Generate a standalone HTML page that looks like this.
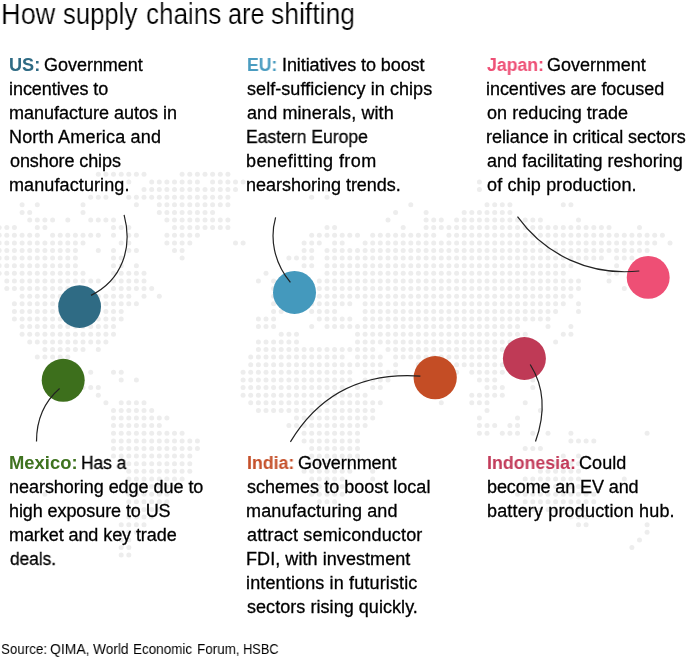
<!DOCTYPE html><html><head><meta charset="utf-8"><title>How supply chains are shifting</title><style>
html,body{margin:0;padding:0;background:#fff}body{width:693px;height:660px;position:relative;overflow:hidden;font-family:"Liberation Sans",sans-serif}
svg{position:absolute;left:0;top:0}
#w{position:absolute;left:0;top:0;width:693px;height:660px;}
.t{will-change:transform;position:absolute;white-space:pre;line-height:20px;height:20px;margin:0}
.n{-webkit-text-stroke:0.3px #000;color:#000}.b{font-weight:bold}.h{-webkit-text-stroke:0.2px #fff}.s{}
</style></head><body><div id="w">
<svg width="693" height="660" viewBox="0 0 693 660"><g fill="#ededed">
<circle cx="98.3" cy="174.3" r="2.5"/>
<circle cx="105.9" cy="174.3" r="2.5"/>
<circle cx="113.5" cy="174.3" r="2.5"/>
<circle cx="121.2" cy="174.3" r="2.5"/>
<circle cx="128.8" cy="174.3" r="2.5"/>
<circle cx="136.4" cy="174.3" r="2.5"/>
<circle cx="144.0" cy="174.3" r="2.5"/>
<circle cx="182.1" cy="174.3" r="2.5"/>
<circle cx="189.8" cy="174.3" r="2.5"/>
<circle cx="197.4" cy="174.3" r="2.5"/>
<circle cx="205.0" cy="174.3" r="2.5"/>
<circle cx="212.6" cy="174.3" r="2.5"/>
<circle cx="220.3" cy="174.3" r="2.5"/>
<circle cx="227.9" cy="174.3" r="2.5"/>
<circle cx="128.8" cy="181.9" r="2.5"/>
<circle cx="151.7" cy="181.9" r="2.5"/>
<circle cx="159.3" cy="181.9" r="2.5"/>
<circle cx="166.9" cy="181.9" r="2.5"/>
<circle cx="174.5" cy="181.9" r="2.5"/>
<circle cx="182.1" cy="181.9" r="2.5"/>
<circle cx="189.8" cy="181.9" r="2.5"/>
<circle cx="197.4" cy="181.9" r="2.5"/>
<circle cx="212.6" cy="181.9" r="2.5"/>
<circle cx="220.3" cy="181.9" r="2.5"/>
<circle cx="227.9" cy="181.9" r="2.5"/>
<circle cx="235.5" cy="181.9" r="2.5"/>
<circle cx="243.1" cy="181.9" r="2.5"/>
<circle cx="479.4" cy="181.9" r="2.5"/>
<circle cx="144.0" cy="189.5" r="2.5"/>
<circle cx="151.7" cy="189.5" r="2.5"/>
<circle cx="159.3" cy="189.5" r="2.5"/>
<circle cx="166.9" cy="189.5" r="2.5"/>
<circle cx="174.5" cy="189.5" r="2.5"/>
<circle cx="182.1" cy="189.5" r="2.5"/>
<circle cx="189.8" cy="189.5" r="2.5"/>
<circle cx="197.4" cy="189.5" r="2.5"/>
<circle cx="205.0" cy="189.5" r="2.5"/>
<circle cx="212.6" cy="189.5" r="2.5"/>
<circle cx="220.3" cy="189.5" r="2.5"/>
<circle cx="227.9" cy="189.5" r="2.5"/>
<circle cx="235.5" cy="189.5" r="2.5"/>
<circle cx="311.7" cy="189.5" r="2.5"/>
<circle cx="327.0" cy="189.5" r="2.5"/>
<circle cx="479.4" cy="189.5" r="2.5"/>
<circle cx="90.7" cy="197.2" r="2.5"/>
<circle cx="98.3" cy="197.2" r="2.5"/>
<circle cx="105.9" cy="197.2" r="2.5"/>
<circle cx="128.8" cy="197.2" r="2.5"/>
<circle cx="136.4" cy="197.2" r="2.5"/>
<circle cx="144.0" cy="197.2" r="2.5"/>
<circle cx="151.7" cy="197.2" r="2.5"/>
<circle cx="159.3" cy="197.2" r="2.5"/>
<circle cx="166.9" cy="197.2" r="2.5"/>
<circle cx="174.5" cy="197.2" r="2.5"/>
<circle cx="182.1" cy="197.2" r="2.5"/>
<circle cx="189.8" cy="197.2" r="2.5"/>
<circle cx="197.4" cy="197.2" r="2.5"/>
<circle cx="205.0" cy="197.2" r="2.5"/>
<circle cx="212.6" cy="197.2" r="2.5"/>
<circle cx="220.3" cy="197.2" r="2.5"/>
<circle cx="227.9" cy="197.2" r="2.5"/>
<circle cx="311.7" cy="197.2" r="2.5"/>
<circle cx="327.0" cy="197.2" r="2.5"/>
<circle cx="22.1" cy="204.8" r="2.5"/>
<circle cx="37.3" cy="204.8" r="2.5"/>
<circle cx="83.0" cy="204.8" r="2.5"/>
<circle cx="136.4" cy="204.8" r="2.5"/>
<circle cx="159.3" cy="204.8" r="2.5"/>
<circle cx="166.9" cy="204.8" r="2.5"/>
<circle cx="174.5" cy="204.8" r="2.5"/>
<circle cx="182.1" cy="204.8" r="2.5"/>
<circle cx="189.8" cy="204.8" r="2.5"/>
<circle cx="197.4" cy="204.8" r="2.5"/>
<circle cx="205.0" cy="204.8" r="2.5"/>
<circle cx="212.6" cy="204.8" r="2.5"/>
<circle cx="220.3" cy="204.8" r="2.5"/>
<circle cx="227.9" cy="204.8" r="2.5"/>
<circle cx="410.8" cy="204.8" r="2.5"/>
<circle cx="487.0" cy="204.8" r="2.5"/>
<circle cx="494.7" cy="204.8" r="2.5"/>
<circle cx="502.3" cy="204.8" r="2.5"/>
<circle cx="509.9" cy="204.8" r="2.5"/>
<circle cx="563.3" cy="204.8" r="2.5"/>
<circle cx="570.9" cy="204.8" r="2.5"/>
<circle cx="22.1" cy="212.4" r="2.5"/>
<circle cx="29.7" cy="212.4" r="2.5"/>
<circle cx="83.0" cy="212.4" r="2.5"/>
<circle cx="159.3" cy="212.4" r="2.5"/>
<circle cx="166.9" cy="212.4" r="2.5"/>
<circle cx="174.5" cy="212.4" r="2.5"/>
<circle cx="182.1" cy="212.4" r="2.5"/>
<circle cx="189.8" cy="212.4" r="2.5"/>
<circle cx="197.4" cy="212.4" r="2.5"/>
<circle cx="205.0" cy="212.4" r="2.5"/>
<circle cx="212.6" cy="212.4" r="2.5"/>
<circle cx="395.6" cy="212.4" r="2.5"/>
<circle cx="426.1" cy="212.4" r="2.5"/>
<circle cx="464.2" cy="212.4" r="2.5"/>
<circle cx="471.8" cy="212.4" r="2.5"/>
<circle cx="479.4" cy="212.4" r="2.5"/>
<circle cx="487.0" cy="212.4" r="2.5"/>
<circle cx="494.7" cy="212.4" r="2.5"/>
<circle cx="502.3" cy="212.4" r="2.5"/>
<circle cx="509.9" cy="212.4" r="2.5"/>
<circle cx="29.7" cy="220.0" r="2.5"/>
<circle cx="37.3" cy="220.0" r="2.5"/>
<circle cx="44.9" cy="220.0" r="2.5"/>
<circle cx="52.6" cy="220.0" r="2.5"/>
<circle cx="67.8" cy="220.0" r="2.5"/>
<circle cx="90.7" cy="220.0" r="2.5"/>
<circle cx="98.3" cy="220.0" r="2.5"/>
<circle cx="105.9" cy="220.0" r="2.5"/>
<circle cx="113.5" cy="220.0" r="2.5"/>
<circle cx="166.9" cy="220.0" r="2.5"/>
<circle cx="174.5" cy="220.0" r="2.5"/>
<circle cx="182.1" cy="220.0" r="2.5"/>
<circle cx="189.8" cy="220.0" r="2.5"/>
<circle cx="197.4" cy="220.0" r="2.5"/>
<circle cx="205.0" cy="220.0" r="2.5"/>
<circle cx="212.6" cy="220.0" r="2.5"/>
<circle cx="220.3" cy="220.0" r="2.5"/>
<circle cx="227.9" cy="220.0" r="2.5"/>
<circle cx="388.0" cy="220.0" r="2.5"/>
<circle cx="426.1" cy="220.0" r="2.5"/>
<circle cx="433.7" cy="220.0" r="2.5"/>
<circle cx="441.3" cy="220.0" r="2.5"/>
<circle cx="456.6" cy="220.0" r="2.5"/>
<circle cx="464.2" cy="220.0" r="2.5"/>
<circle cx="471.8" cy="220.0" r="2.5"/>
<circle cx="479.4" cy="220.0" r="2.5"/>
<circle cx="487.0" cy="220.0" r="2.5"/>
<circle cx="494.7" cy="220.0" r="2.5"/>
<circle cx="502.3" cy="220.0" r="2.5"/>
<circle cx="509.9" cy="220.0" r="2.5"/>
<circle cx="517.5" cy="220.0" r="2.5"/>
<circle cx="525.2" cy="220.0" r="2.5"/>
<circle cx="532.8" cy="220.0" r="2.5"/>
<circle cx="540.4" cy="220.0" r="2.5"/>
<circle cx="578.5" cy="220.0" r="2.5"/>
<circle cx="-0.8" cy="227.6" r="2.5"/>
<circle cx="6.8" cy="227.6" r="2.5"/>
<circle cx="14.4" cy="227.6" r="2.5"/>
<circle cx="37.3" cy="227.6" r="2.5"/>
<circle cx="44.9" cy="227.6" r="2.5"/>
<circle cx="113.5" cy="227.6" r="2.5"/>
<circle cx="121.2" cy="227.6" r="2.5"/>
<circle cx="128.8" cy="227.6" r="2.5"/>
<circle cx="174.5" cy="227.6" r="2.5"/>
<circle cx="182.1" cy="227.6" r="2.5"/>
<circle cx="189.8" cy="227.6" r="2.5"/>
<circle cx="197.4" cy="227.6" r="2.5"/>
<circle cx="205.0" cy="227.6" r="2.5"/>
<circle cx="212.6" cy="227.6" r="2.5"/>
<circle cx="220.3" cy="227.6" r="2.5"/>
<circle cx="227.9" cy="227.6" r="2.5"/>
<circle cx="327.0" cy="227.6" r="2.5"/>
<circle cx="334.6" cy="227.6" r="2.5"/>
<circle cx="403.2" cy="227.6" r="2.5"/>
<circle cx="426.1" cy="227.6" r="2.5"/>
<circle cx="433.7" cy="227.6" r="2.5"/>
<circle cx="441.3" cy="227.6" r="2.5"/>
<circle cx="448.9" cy="227.6" r="2.5"/>
<circle cx="456.6" cy="227.6" r="2.5"/>
<circle cx="464.2" cy="227.6" r="2.5"/>
<circle cx="471.8" cy="227.6" r="2.5"/>
<circle cx="479.4" cy="227.6" r="2.5"/>
<circle cx="487.0" cy="227.6" r="2.5"/>
<circle cx="494.7" cy="227.6" r="2.5"/>
<circle cx="502.3" cy="227.6" r="2.5"/>
<circle cx="509.9" cy="227.6" r="2.5"/>
<circle cx="517.5" cy="227.6" r="2.5"/>
<circle cx="525.2" cy="227.6" r="2.5"/>
<circle cx="532.8" cy="227.6" r="2.5"/>
<circle cx="540.4" cy="227.6" r="2.5"/>
<circle cx="548.0" cy="227.6" r="2.5"/>
<circle cx="555.6" cy="227.6" r="2.5"/>
<circle cx="563.3" cy="227.6" r="2.5"/>
<circle cx="570.9" cy="227.6" r="2.5"/>
<circle cx="578.5" cy="227.6" r="2.5"/>
<circle cx="586.1" cy="227.6" r="2.5"/>
<circle cx="593.8" cy="227.6" r="2.5"/>
<circle cx="601.4" cy="227.6" r="2.5"/>
<circle cx="609.0" cy="227.6" r="2.5"/>
<circle cx="639.5" cy="227.6" r="2.5"/>
<circle cx="-0.8" cy="235.2" r="2.5"/>
<circle cx="6.8" cy="235.2" r="2.5"/>
<circle cx="14.4" cy="235.2" r="2.5"/>
<circle cx="22.1" cy="235.2" r="2.5"/>
<circle cx="29.7" cy="235.2" r="2.5"/>
<circle cx="37.3" cy="235.2" r="2.5"/>
<circle cx="52.6" cy="235.2" r="2.5"/>
<circle cx="60.2" cy="235.2" r="2.5"/>
<circle cx="67.8" cy="235.2" r="2.5"/>
<circle cx="75.4" cy="235.2" r="2.5"/>
<circle cx="83.0" cy="235.2" r="2.5"/>
<circle cx="90.7" cy="235.2" r="2.5"/>
<circle cx="98.3" cy="235.2" r="2.5"/>
<circle cx="113.5" cy="235.2" r="2.5"/>
<circle cx="128.8" cy="235.2" r="2.5"/>
<circle cx="136.4" cy="235.2" r="2.5"/>
<circle cx="166.9" cy="235.2" r="2.5"/>
<circle cx="174.5" cy="235.2" r="2.5"/>
<circle cx="182.1" cy="235.2" r="2.5"/>
<circle cx="189.8" cy="235.2" r="2.5"/>
<circle cx="197.4" cy="235.2" r="2.5"/>
<circle cx="311.7" cy="235.2" r="2.5"/>
<circle cx="319.3" cy="235.2" r="2.5"/>
<circle cx="327.0" cy="235.2" r="2.5"/>
<circle cx="334.6" cy="235.2" r="2.5"/>
<circle cx="342.2" cy="235.2" r="2.5"/>
<circle cx="349.8" cy="235.2" r="2.5"/>
<circle cx="357.5" cy="235.2" r="2.5"/>
<circle cx="372.7" cy="235.2" r="2.5"/>
<circle cx="380.3" cy="235.2" r="2.5"/>
<circle cx="388.0" cy="235.2" r="2.5"/>
<circle cx="395.6" cy="235.2" r="2.5"/>
<circle cx="403.2" cy="235.2" r="2.5"/>
<circle cx="410.8" cy="235.2" r="2.5"/>
<circle cx="418.4" cy="235.2" r="2.5"/>
<circle cx="426.1" cy="235.2" r="2.5"/>
<circle cx="433.7" cy="235.2" r="2.5"/>
<circle cx="448.9" cy="235.2" r="2.5"/>
<circle cx="456.6" cy="235.2" r="2.5"/>
<circle cx="464.2" cy="235.2" r="2.5"/>
<circle cx="471.8" cy="235.2" r="2.5"/>
<circle cx="479.4" cy="235.2" r="2.5"/>
<circle cx="487.0" cy="235.2" r="2.5"/>
<circle cx="494.7" cy="235.2" r="2.5"/>
<circle cx="502.3" cy="235.2" r="2.5"/>
<circle cx="509.9" cy="235.2" r="2.5"/>
<circle cx="517.5" cy="235.2" r="2.5"/>
<circle cx="525.2" cy="235.2" r="2.5"/>
<circle cx="532.8" cy="235.2" r="2.5"/>
<circle cx="540.4" cy="235.2" r="2.5"/>
<circle cx="548.0" cy="235.2" r="2.5"/>
<circle cx="555.6" cy="235.2" r="2.5"/>
<circle cx="563.3" cy="235.2" r="2.5"/>
<circle cx="570.9" cy="235.2" r="2.5"/>
<circle cx="578.5" cy="235.2" r="2.5"/>
<circle cx="586.1" cy="235.2" r="2.5"/>
<circle cx="593.8" cy="235.2" r="2.5"/>
<circle cx="601.4" cy="235.2" r="2.5"/>
<circle cx="609.0" cy="235.2" r="2.5"/>
<circle cx="616.6" cy="235.2" r="2.5"/>
<circle cx="624.3" cy="235.2" r="2.5"/>
<circle cx="631.9" cy="235.2" r="2.5"/>
<circle cx="639.5" cy="235.2" r="2.5"/>
<circle cx="647.1" cy="235.2" r="2.5"/>
<circle cx="654.7" cy="235.2" r="2.5"/>
<circle cx="662.4" cy="235.2" r="2.5"/>
<circle cx="-0.8" cy="242.9" r="2.5"/>
<circle cx="6.8" cy="242.9" r="2.5"/>
<circle cx="14.4" cy="242.9" r="2.5"/>
<circle cx="22.1" cy="242.9" r="2.5"/>
<circle cx="29.7" cy="242.9" r="2.5"/>
<circle cx="37.3" cy="242.9" r="2.5"/>
<circle cx="44.9" cy="242.9" r="2.5"/>
<circle cx="52.6" cy="242.9" r="2.5"/>
<circle cx="60.2" cy="242.9" r="2.5"/>
<circle cx="67.8" cy="242.9" r="2.5"/>
<circle cx="75.4" cy="242.9" r="2.5"/>
<circle cx="83.0" cy="242.9" r="2.5"/>
<circle cx="121.2" cy="242.9" r="2.5"/>
<circle cx="128.8" cy="242.9" r="2.5"/>
<circle cx="166.9" cy="242.9" r="2.5"/>
<circle cx="174.5" cy="242.9" r="2.5"/>
<circle cx="182.1" cy="242.9" r="2.5"/>
<circle cx="189.8" cy="242.9" r="2.5"/>
<circle cx="235.5" cy="242.9" r="2.5"/>
<circle cx="243.1" cy="242.9" r="2.5"/>
<circle cx="304.1" cy="242.9" r="2.5"/>
<circle cx="311.7" cy="242.9" r="2.5"/>
<circle cx="319.3" cy="242.9" r="2.5"/>
<circle cx="334.6" cy="242.9" r="2.5"/>
<circle cx="342.2" cy="242.9" r="2.5"/>
<circle cx="365.1" cy="242.9" r="2.5"/>
<circle cx="372.7" cy="242.9" r="2.5"/>
<circle cx="380.3" cy="242.9" r="2.5"/>
<circle cx="388.0" cy="242.9" r="2.5"/>
<circle cx="395.6" cy="242.9" r="2.5"/>
<circle cx="403.2" cy="242.9" r="2.5"/>
<circle cx="410.8" cy="242.9" r="2.5"/>
<circle cx="418.4" cy="242.9" r="2.5"/>
<circle cx="426.1" cy="242.9" r="2.5"/>
<circle cx="433.7" cy="242.9" r="2.5"/>
<circle cx="441.3" cy="242.9" r="2.5"/>
<circle cx="448.9" cy="242.9" r="2.5"/>
<circle cx="456.6" cy="242.9" r="2.5"/>
<circle cx="464.2" cy="242.9" r="2.5"/>
<circle cx="471.8" cy="242.9" r="2.5"/>
<circle cx="479.4" cy="242.9" r="2.5"/>
<circle cx="487.0" cy="242.9" r="2.5"/>
<circle cx="494.7" cy="242.9" r="2.5"/>
<circle cx="502.3" cy="242.9" r="2.5"/>
<circle cx="509.9" cy="242.9" r="2.5"/>
<circle cx="517.5" cy="242.9" r="2.5"/>
<circle cx="525.2" cy="242.9" r="2.5"/>
<circle cx="532.8" cy="242.9" r="2.5"/>
<circle cx="540.4" cy="242.9" r="2.5"/>
<circle cx="548.0" cy="242.9" r="2.5"/>
<circle cx="555.6" cy="242.9" r="2.5"/>
<circle cx="563.3" cy="242.9" r="2.5"/>
<circle cx="570.9" cy="242.9" r="2.5"/>
<circle cx="578.5" cy="242.9" r="2.5"/>
<circle cx="586.1" cy="242.9" r="2.5"/>
<circle cx="593.8" cy="242.9" r="2.5"/>
<circle cx="601.4" cy="242.9" r="2.5"/>
<circle cx="609.0" cy="242.9" r="2.5"/>
<circle cx="616.6" cy="242.9" r="2.5"/>
<circle cx="624.3" cy="242.9" r="2.5"/>
<circle cx="631.9" cy="242.9" r="2.5"/>
<circle cx="639.5" cy="242.9" r="2.5"/>
<circle cx="647.1" cy="242.9" r="2.5"/>
<circle cx="654.7" cy="242.9" r="2.5"/>
<circle cx="670.0" cy="242.9" r="2.5"/>
<circle cx="-0.8" cy="250.5" r="2.5"/>
<circle cx="6.8" cy="250.5" r="2.5"/>
<circle cx="14.4" cy="250.5" r="2.5"/>
<circle cx="22.1" cy="250.5" r="2.5"/>
<circle cx="29.7" cy="250.5" r="2.5"/>
<circle cx="37.3" cy="250.5" r="2.5"/>
<circle cx="44.9" cy="250.5" r="2.5"/>
<circle cx="52.6" cy="250.5" r="2.5"/>
<circle cx="60.2" cy="250.5" r="2.5"/>
<circle cx="67.8" cy="250.5" r="2.5"/>
<circle cx="75.4" cy="250.5" r="2.5"/>
<circle cx="98.3" cy="250.5" r="2.5"/>
<circle cx="113.5" cy="250.5" r="2.5"/>
<circle cx="128.8" cy="250.5" r="2.5"/>
<circle cx="136.4" cy="250.5" r="2.5"/>
<circle cx="174.5" cy="250.5" r="2.5"/>
<circle cx="182.1" cy="250.5" r="2.5"/>
<circle cx="304.1" cy="250.5" r="2.5"/>
<circle cx="311.7" cy="250.5" r="2.5"/>
<circle cx="327.0" cy="250.5" r="2.5"/>
<circle cx="334.6" cy="250.5" r="2.5"/>
<circle cx="342.2" cy="250.5" r="2.5"/>
<circle cx="349.8" cy="250.5" r="2.5"/>
<circle cx="357.5" cy="250.5" r="2.5"/>
<circle cx="365.1" cy="250.5" r="2.5"/>
<circle cx="372.7" cy="250.5" r="2.5"/>
<circle cx="380.3" cy="250.5" r="2.5"/>
<circle cx="388.0" cy="250.5" r="2.5"/>
<circle cx="395.6" cy="250.5" r="2.5"/>
<circle cx="403.2" cy="250.5" r="2.5"/>
<circle cx="410.8" cy="250.5" r="2.5"/>
<circle cx="418.4" cy="250.5" r="2.5"/>
<circle cx="426.1" cy="250.5" r="2.5"/>
<circle cx="433.7" cy="250.5" r="2.5"/>
<circle cx="441.3" cy="250.5" r="2.5"/>
<circle cx="448.9" cy="250.5" r="2.5"/>
<circle cx="456.6" cy="250.5" r="2.5"/>
<circle cx="464.2" cy="250.5" r="2.5"/>
<circle cx="471.8" cy="250.5" r="2.5"/>
<circle cx="479.4" cy="250.5" r="2.5"/>
<circle cx="487.0" cy="250.5" r="2.5"/>
<circle cx="494.7" cy="250.5" r="2.5"/>
<circle cx="502.3" cy="250.5" r="2.5"/>
<circle cx="509.9" cy="250.5" r="2.5"/>
<circle cx="517.5" cy="250.5" r="2.5"/>
<circle cx="525.2" cy="250.5" r="2.5"/>
<circle cx="532.8" cy="250.5" r="2.5"/>
<circle cx="540.4" cy="250.5" r="2.5"/>
<circle cx="548.0" cy="250.5" r="2.5"/>
<circle cx="555.6" cy="250.5" r="2.5"/>
<circle cx="563.3" cy="250.5" r="2.5"/>
<circle cx="570.9" cy="250.5" r="2.5"/>
<circle cx="578.5" cy="250.5" r="2.5"/>
<circle cx="586.1" cy="250.5" r="2.5"/>
<circle cx="593.8" cy="250.5" r="2.5"/>
<circle cx="601.4" cy="250.5" r="2.5"/>
<circle cx="609.0" cy="250.5" r="2.5"/>
<circle cx="616.6" cy="250.5" r="2.5"/>
<circle cx="624.3" cy="250.5" r="2.5"/>
<circle cx="631.9" cy="250.5" r="2.5"/>
<circle cx="639.5" cy="250.5" r="2.5"/>
<circle cx="647.1" cy="250.5" r="2.5"/>
<circle cx="-0.8" cy="258.1" r="2.5"/>
<circle cx="6.8" cy="258.1" r="2.5"/>
<circle cx="14.4" cy="258.1" r="2.5"/>
<circle cx="22.1" cy="258.1" r="2.5"/>
<circle cx="29.7" cy="258.1" r="2.5"/>
<circle cx="37.3" cy="258.1" r="2.5"/>
<circle cx="44.9" cy="258.1" r="2.5"/>
<circle cx="52.6" cy="258.1" r="2.5"/>
<circle cx="60.2" cy="258.1" r="2.5"/>
<circle cx="67.8" cy="258.1" r="2.5"/>
<circle cx="75.4" cy="258.1" r="2.5"/>
<circle cx="113.5" cy="258.1" r="2.5"/>
<circle cx="121.2" cy="258.1" r="2.5"/>
<circle cx="182.1" cy="258.1" r="2.5"/>
<circle cx="288.9" cy="258.1" r="2.5"/>
<circle cx="296.5" cy="258.1" r="2.5"/>
<circle cx="304.1" cy="258.1" r="2.5"/>
<circle cx="311.7" cy="258.1" r="2.5"/>
<circle cx="327.0" cy="258.1" r="2.5"/>
<circle cx="334.6" cy="258.1" r="2.5"/>
<circle cx="342.2" cy="258.1" r="2.5"/>
<circle cx="349.8" cy="258.1" r="2.5"/>
<circle cx="357.5" cy="258.1" r="2.5"/>
<circle cx="365.1" cy="258.1" r="2.5"/>
<circle cx="372.7" cy="258.1" r="2.5"/>
<circle cx="380.3" cy="258.1" r="2.5"/>
<circle cx="388.0" cy="258.1" r="2.5"/>
<circle cx="395.6" cy="258.1" r="2.5"/>
<circle cx="403.2" cy="258.1" r="2.5"/>
<circle cx="410.8" cy="258.1" r="2.5"/>
<circle cx="418.4" cy="258.1" r="2.5"/>
<circle cx="426.1" cy="258.1" r="2.5"/>
<circle cx="433.7" cy="258.1" r="2.5"/>
<circle cx="441.3" cy="258.1" r="2.5"/>
<circle cx="448.9" cy="258.1" r="2.5"/>
<circle cx="456.6" cy="258.1" r="2.5"/>
<circle cx="464.2" cy="258.1" r="2.5"/>
<circle cx="471.8" cy="258.1" r="2.5"/>
<circle cx="479.4" cy="258.1" r="2.5"/>
<circle cx="487.0" cy="258.1" r="2.5"/>
<circle cx="494.7" cy="258.1" r="2.5"/>
<circle cx="502.3" cy="258.1" r="2.5"/>
<circle cx="509.9" cy="258.1" r="2.5"/>
<circle cx="517.5" cy="258.1" r="2.5"/>
<circle cx="525.2" cy="258.1" r="2.5"/>
<circle cx="532.8" cy="258.1" r="2.5"/>
<circle cx="540.4" cy="258.1" r="2.5"/>
<circle cx="548.0" cy="258.1" r="2.5"/>
<circle cx="555.6" cy="258.1" r="2.5"/>
<circle cx="563.3" cy="258.1" r="2.5"/>
<circle cx="570.9" cy="258.1" r="2.5"/>
<circle cx="578.5" cy="258.1" r="2.5"/>
<circle cx="586.1" cy="258.1" r="2.5"/>
<circle cx="593.8" cy="258.1" r="2.5"/>
<circle cx="601.4" cy="258.1" r="2.5"/>
<circle cx="616.6" cy="258.1" r="2.5"/>
<circle cx="624.3" cy="258.1" r="2.5"/>
<circle cx="631.9" cy="258.1" r="2.5"/>
<circle cx="-0.8" cy="265.7" r="2.5"/>
<circle cx="6.8" cy="265.7" r="2.5"/>
<circle cx="14.4" cy="265.7" r="2.5"/>
<circle cx="22.1" cy="265.7" r="2.5"/>
<circle cx="29.7" cy="265.7" r="2.5"/>
<circle cx="37.3" cy="265.7" r="2.5"/>
<circle cx="44.9" cy="265.7" r="2.5"/>
<circle cx="52.6" cy="265.7" r="2.5"/>
<circle cx="60.2" cy="265.7" r="2.5"/>
<circle cx="67.8" cy="265.7" r="2.5"/>
<circle cx="75.4" cy="265.7" r="2.5"/>
<circle cx="113.5" cy="265.7" r="2.5"/>
<circle cx="121.2" cy="265.7" r="2.5"/>
<circle cx="136.4" cy="265.7" r="2.5"/>
<circle cx="304.1" cy="265.7" r="2.5"/>
<circle cx="311.7" cy="265.7" r="2.5"/>
<circle cx="327.0" cy="265.7" r="2.5"/>
<circle cx="334.6" cy="265.7" r="2.5"/>
<circle cx="342.2" cy="265.7" r="2.5"/>
<circle cx="349.8" cy="265.7" r="2.5"/>
<circle cx="357.5" cy="265.7" r="2.5"/>
<circle cx="365.1" cy="265.7" r="2.5"/>
<circle cx="372.7" cy="265.7" r="2.5"/>
<circle cx="380.3" cy="265.7" r="2.5"/>
<circle cx="388.0" cy="265.7" r="2.5"/>
<circle cx="395.6" cy="265.7" r="2.5"/>
<circle cx="403.2" cy="265.7" r="2.5"/>
<circle cx="410.8" cy="265.7" r="2.5"/>
<circle cx="418.4" cy="265.7" r="2.5"/>
<circle cx="426.1" cy="265.7" r="2.5"/>
<circle cx="433.7" cy="265.7" r="2.5"/>
<circle cx="441.3" cy="265.7" r="2.5"/>
<circle cx="448.9" cy="265.7" r="2.5"/>
<circle cx="456.6" cy="265.7" r="2.5"/>
<circle cx="464.2" cy="265.7" r="2.5"/>
<circle cx="471.8" cy="265.7" r="2.5"/>
<circle cx="479.4" cy="265.7" r="2.5"/>
<circle cx="487.0" cy="265.7" r="2.5"/>
<circle cx="494.7" cy="265.7" r="2.5"/>
<circle cx="502.3" cy="265.7" r="2.5"/>
<circle cx="509.9" cy="265.7" r="2.5"/>
<circle cx="517.5" cy="265.7" r="2.5"/>
<circle cx="525.2" cy="265.7" r="2.5"/>
<circle cx="532.8" cy="265.7" r="2.5"/>
<circle cx="540.4" cy="265.7" r="2.5"/>
<circle cx="548.0" cy="265.7" r="2.5"/>
<circle cx="555.6" cy="265.7" r="2.5"/>
<circle cx="563.3" cy="265.7" r="2.5"/>
<circle cx="570.9" cy="265.7" r="2.5"/>
<circle cx="616.6" cy="265.7" r="2.5"/>
<circle cx="-0.8" cy="273.3" r="2.5"/>
<circle cx="6.8" cy="273.3" r="2.5"/>
<circle cx="14.4" cy="273.3" r="2.5"/>
<circle cx="22.1" cy="273.3" r="2.5"/>
<circle cx="29.7" cy="273.3" r="2.5"/>
<circle cx="37.3" cy="273.3" r="2.5"/>
<circle cx="44.9" cy="273.3" r="2.5"/>
<circle cx="52.6" cy="273.3" r="2.5"/>
<circle cx="60.2" cy="273.3" r="2.5"/>
<circle cx="67.8" cy="273.3" r="2.5"/>
<circle cx="75.4" cy="273.3" r="2.5"/>
<circle cx="83.0" cy="273.3" r="2.5"/>
<circle cx="113.5" cy="273.3" r="2.5"/>
<circle cx="121.2" cy="273.3" r="2.5"/>
<circle cx="128.8" cy="273.3" r="2.5"/>
<circle cx="136.4" cy="273.3" r="2.5"/>
<circle cx="144.0" cy="273.3" r="2.5"/>
<circle cx="266.0" cy="273.3" r="2.5"/>
<circle cx="327.0" cy="273.3" r="2.5"/>
<circle cx="334.6" cy="273.3" r="2.5"/>
<circle cx="342.2" cy="273.3" r="2.5"/>
<circle cx="349.8" cy="273.3" r="2.5"/>
<circle cx="357.5" cy="273.3" r="2.5"/>
<circle cx="365.1" cy="273.3" r="2.5"/>
<circle cx="372.7" cy="273.3" r="2.5"/>
<circle cx="380.3" cy="273.3" r="2.5"/>
<circle cx="388.0" cy="273.3" r="2.5"/>
<circle cx="395.6" cy="273.3" r="2.5"/>
<circle cx="403.2" cy="273.3" r="2.5"/>
<circle cx="410.8" cy="273.3" r="2.5"/>
<circle cx="418.4" cy="273.3" r="2.5"/>
<circle cx="426.1" cy="273.3" r="2.5"/>
<circle cx="433.7" cy="273.3" r="2.5"/>
<circle cx="441.3" cy="273.3" r="2.5"/>
<circle cx="448.9" cy="273.3" r="2.5"/>
<circle cx="456.6" cy="273.3" r="2.5"/>
<circle cx="464.2" cy="273.3" r="2.5"/>
<circle cx="471.8" cy="273.3" r="2.5"/>
<circle cx="479.4" cy="273.3" r="2.5"/>
<circle cx="487.0" cy="273.3" r="2.5"/>
<circle cx="494.7" cy="273.3" r="2.5"/>
<circle cx="502.3" cy="273.3" r="2.5"/>
<circle cx="509.9" cy="273.3" r="2.5"/>
<circle cx="517.5" cy="273.3" r="2.5"/>
<circle cx="525.2" cy="273.3" r="2.5"/>
<circle cx="532.8" cy="273.3" r="2.5"/>
<circle cx="540.4" cy="273.3" r="2.5"/>
<circle cx="548.0" cy="273.3" r="2.5"/>
<circle cx="555.6" cy="273.3" r="2.5"/>
<circle cx="563.3" cy="273.3" r="2.5"/>
<circle cx="609.0" cy="273.3" r="2.5"/>
<circle cx="616.6" cy="273.3" r="2.5"/>
<circle cx="6.8" cy="280.9" r="2.5"/>
<circle cx="14.4" cy="280.9" r="2.5"/>
<circle cx="22.1" cy="280.9" r="2.5"/>
<circle cx="29.7" cy="280.9" r="2.5"/>
<circle cx="37.3" cy="280.9" r="2.5"/>
<circle cx="44.9" cy="280.9" r="2.5"/>
<circle cx="52.6" cy="280.9" r="2.5"/>
<circle cx="60.2" cy="280.9" r="2.5"/>
<circle cx="67.8" cy="280.9" r="2.5"/>
<circle cx="75.4" cy="280.9" r="2.5"/>
<circle cx="83.0" cy="280.9" r="2.5"/>
<circle cx="90.7" cy="280.9" r="2.5"/>
<circle cx="98.3" cy="280.9" r="2.5"/>
<circle cx="113.5" cy="280.9" r="2.5"/>
<circle cx="121.2" cy="280.9" r="2.5"/>
<circle cx="128.8" cy="280.9" r="2.5"/>
<circle cx="136.4" cy="280.9" r="2.5"/>
<circle cx="144.0" cy="280.9" r="2.5"/>
<circle cx="258.4" cy="280.9" r="2.5"/>
<circle cx="273.6" cy="280.9" r="2.5"/>
<circle cx="319.3" cy="280.9" r="2.5"/>
<circle cx="327.0" cy="280.9" r="2.5"/>
<circle cx="334.6" cy="280.9" r="2.5"/>
<circle cx="342.2" cy="280.9" r="2.5"/>
<circle cx="349.8" cy="280.9" r="2.5"/>
<circle cx="357.5" cy="280.9" r="2.5"/>
<circle cx="365.1" cy="280.9" r="2.5"/>
<circle cx="372.7" cy="280.9" r="2.5"/>
<circle cx="380.3" cy="280.9" r="2.5"/>
<circle cx="388.0" cy="280.9" r="2.5"/>
<circle cx="395.6" cy="280.9" r="2.5"/>
<circle cx="403.2" cy="280.9" r="2.5"/>
<circle cx="410.8" cy="280.9" r="2.5"/>
<circle cx="418.4" cy="280.9" r="2.5"/>
<circle cx="426.1" cy="280.9" r="2.5"/>
<circle cx="433.7" cy="280.9" r="2.5"/>
<circle cx="441.3" cy="280.9" r="2.5"/>
<circle cx="448.9" cy="280.9" r="2.5"/>
<circle cx="456.6" cy="280.9" r="2.5"/>
<circle cx="464.2" cy="280.9" r="2.5"/>
<circle cx="471.8" cy="280.9" r="2.5"/>
<circle cx="479.4" cy="280.9" r="2.5"/>
<circle cx="487.0" cy="280.9" r="2.5"/>
<circle cx="494.7" cy="280.9" r="2.5"/>
<circle cx="502.3" cy="280.9" r="2.5"/>
<circle cx="509.9" cy="280.9" r="2.5"/>
<circle cx="517.5" cy="280.9" r="2.5"/>
<circle cx="525.2" cy="280.9" r="2.5"/>
<circle cx="532.8" cy="280.9" r="2.5"/>
<circle cx="540.4" cy="280.9" r="2.5"/>
<circle cx="548.0" cy="280.9" r="2.5"/>
<circle cx="555.6" cy="280.9" r="2.5"/>
<circle cx="563.3" cy="280.9" r="2.5"/>
<circle cx="570.9" cy="280.9" r="2.5"/>
<circle cx="578.5" cy="280.9" r="2.5"/>
<circle cx="609.0" cy="280.9" r="2.5"/>
<circle cx="6.8" cy="288.6" r="2.5"/>
<circle cx="14.4" cy="288.6" r="2.5"/>
<circle cx="22.1" cy="288.6" r="2.5"/>
<circle cx="29.7" cy="288.6" r="2.5"/>
<circle cx="37.3" cy="288.6" r="2.5"/>
<circle cx="44.9" cy="288.6" r="2.5"/>
<circle cx="52.6" cy="288.6" r="2.5"/>
<circle cx="60.2" cy="288.6" r="2.5"/>
<circle cx="67.8" cy="288.6" r="2.5"/>
<circle cx="75.4" cy="288.6" r="2.5"/>
<circle cx="83.0" cy="288.6" r="2.5"/>
<circle cx="113.5" cy="288.6" r="2.5"/>
<circle cx="121.2" cy="288.6" r="2.5"/>
<circle cx="128.8" cy="288.6" r="2.5"/>
<circle cx="136.4" cy="288.6" r="2.5"/>
<circle cx="144.0" cy="288.6" r="2.5"/>
<circle cx="151.7" cy="288.6" r="2.5"/>
<circle cx="273.6" cy="288.6" r="2.5"/>
<circle cx="319.3" cy="288.6" r="2.5"/>
<circle cx="327.0" cy="288.6" r="2.5"/>
<circle cx="334.6" cy="288.6" r="2.5"/>
<circle cx="342.2" cy="288.6" r="2.5"/>
<circle cx="349.8" cy="288.6" r="2.5"/>
<circle cx="357.5" cy="288.6" r="2.5"/>
<circle cx="365.1" cy="288.6" r="2.5"/>
<circle cx="372.7" cy="288.6" r="2.5"/>
<circle cx="380.3" cy="288.6" r="2.5"/>
<circle cx="388.0" cy="288.6" r="2.5"/>
<circle cx="395.6" cy="288.6" r="2.5"/>
<circle cx="403.2" cy="288.6" r="2.5"/>
<circle cx="410.8" cy="288.6" r="2.5"/>
<circle cx="418.4" cy="288.6" r="2.5"/>
<circle cx="426.1" cy="288.6" r="2.5"/>
<circle cx="433.7" cy="288.6" r="2.5"/>
<circle cx="441.3" cy="288.6" r="2.5"/>
<circle cx="448.9" cy="288.6" r="2.5"/>
<circle cx="456.6" cy="288.6" r="2.5"/>
<circle cx="464.2" cy="288.6" r="2.5"/>
<circle cx="471.8" cy="288.6" r="2.5"/>
<circle cx="479.4" cy="288.6" r="2.5"/>
<circle cx="487.0" cy="288.6" r="2.5"/>
<circle cx="494.7" cy="288.6" r="2.5"/>
<circle cx="502.3" cy="288.6" r="2.5"/>
<circle cx="509.9" cy="288.6" r="2.5"/>
<circle cx="517.5" cy="288.6" r="2.5"/>
<circle cx="525.2" cy="288.6" r="2.5"/>
<circle cx="532.8" cy="288.6" r="2.5"/>
<circle cx="540.4" cy="288.6" r="2.5"/>
<circle cx="548.0" cy="288.6" r="2.5"/>
<circle cx="555.6" cy="288.6" r="2.5"/>
<circle cx="563.3" cy="288.6" r="2.5"/>
<circle cx="570.9" cy="288.6" r="2.5"/>
<circle cx="578.5" cy="288.6" r="2.5"/>
<circle cx="624.3" cy="288.6" r="2.5"/>
<circle cx="22.1" cy="296.2" r="2.5"/>
<circle cx="29.7" cy="296.2" r="2.5"/>
<circle cx="37.3" cy="296.2" r="2.5"/>
<circle cx="44.9" cy="296.2" r="2.5"/>
<circle cx="52.6" cy="296.2" r="2.5"/>
<circle cx="60.2" cy="296.2" r="2.5"/>
<circle cx="67.8" cy="296.2" r="2.5"/>
<circle cx="75.4" cy="296.2" r="2.5"/>
<circle cx="83.0" cy="296.2" r="2.5"/>
<circle cx="90.7" cy="296.2" r="2.5"/>
<circle cx="98.3" cy="296.2" r="2.5"/>
<circle cx="105.9" cy="296.2" r="2.5"/>
<circle cx="113.5" cy="296.2" r="2.5"/>
<circle cx="121.2" cy="296.2" r="2.5"/>
<circle cx="128.8" cy="296.2" r="2.5"/>
<circle cx="144.0" cy="296.2" r="2.5"/>
<circle cx="159.3" cy="296.2" r="2.5"/>
<circle cx="273.6" cy="296.2" r="2.5"/>
<circle cx="319.3" cy="296.2" r="2.5"/>
<circle cx="327.0" cy="296.2" r="2.5"/>
<circle cx="334.6" cy="296.2" r="2.5"/>
<circle cx="342.2" cy="296.2" r="2.5"/>
<circle cx="349.8" cy="296.2" r="2.5"/>
<circle cx="357.5" cy="296.2" r="2.5"/>
<circle cx="365.1" cy="296.2" r="2.5"/>
<circle cx="372.7" cy="296.2" r="2.5"/>
<circle cx="380.3" cy="296.2" r="2.5"/>
<circle cx="388.0" cy="296.2" r="2.5"/>
<circle cx="395.6" cy="296.2" r="2.5"/>
<circle cx="403.2" cy="296.2" r="2.5"/>
<circle cx="410.8" cy="296.2" r="2.5"/>
<circle cx="418.4" cy="296.2" r="2.5"/>
<circle cx="426.1" cy="296.2" r="2.5"/>
<circle cx="433.7" cy="296.2" r="2.5"/>
<circle cx="441.3" cy="296.2" r="2.5"/>
<circle cx="448.9" cy="296.2" r="2.5"/>
<circle cx="456.6" cy="296.2" r="2.5"/>
<circle cx="464.2" cy="296.2" r="2.5"/>
<circle cx="471.8" cy="296.2" r="2.5"/>
<circle cx="479.4" cy="296.2" r="2.5"/>
<circle cx="487.0" cy="296.2" r="2.5"/>
<circle cx="494.7" cy="296.2" r="2.5"/>
<circle cx="502.3" cy="296.2" r="2.5"/>
<circle cx="509.9" cy="296.2" r="2.5"/>
<circle cx="517.5" cy="296.2" r="2.5"/>
<circle cx="525.2" cy="296.2" r="2.5"/>
<circle cx="532.8" cy="296.2" r="2.5"/>
<circle cx="540.4" cy="296.2" r="2.5"/>
<circle cx="548.0" cy="296.2" r="2.5"/>
<circle cx="555.6" cy="296.2" r="2.5"/>
<circle cx="563.3" cy="296.2" r="2.5"/>
<circle cx="570.9" cy="296.2" r="2.5"/>
<circle cx="14.4" cy="303.8" r="2.5"/>
<circle cx="22.1" cy="303.8" r="2.5"/>
<circle cx="29.7" cy="303.8" r="2.5"/>
<circle cx="37.3" cy="303.8" r="2.5"/>
<circle cx="44.9" cy="303.8" r="2.5"/>
<circle cx="52.6" cy="303.8" r="2.5"/>
<circle cx="60.2" cy="303.8" r="2.5"/>
<circle cx="67.8" cy="303.8" r="2.5"/>
<circle cx="75.4" cy="303.8" r="2.5"/>
<circle cx="83.0" cy="303.8" r="2.5"/>
<circle cx="90.7" cy="303.8" r="2.5"/>
<circle cx="98.3" cy="303.8" r="2.5"/>
<circle cx="105.9" cy="303.8" r="2.5"/>
<circle cx="113.5" cy="303.8" r="2.5"/>
<circle cx="121.2" cy="303.8" r="2.5"/>
<circle cx="128.8" cy="303.8" r="2.5"/>
<circle cx="136.4" cy="303.8" r="2.5"/>
<circle cx="273.6" cy="303.8" r="2.5"/>
<circle cx="311.7" cy="303.8" r="2.5"/>
<circle cx="319.3" cy="303.8" r="2.5"/>
<circle cx="327.0" cy="303.8" r="2.5"/>
<circle cx="334.6" cy="303.8" r="2.5"/>
<circle cx="342.2" cy="303.8" r="2.5"/>
<circle cx="349.8" cy="303.8" r="2.5"/>
<circle cx="365.1" cy="303.8" r="2.5"/>
<circle cx="372.7" cy="303.8" r="2.5"/>
<circle cx="380.3" cy="303.8" r="2.5"/>
<circle cx="388.0" cy="303.8" r="2.5"/>
<circle cx="395.6" cy="303.8" r="2.5"/>
<circle cx="403.2" cy="303.8" r="2.5"/>
<circle cx="410.8" cy="303.8" r="2.5"/>
<circle cx="418.4" cy="303.8" r="2.5"/>
<circle cx="426.1" cy="303.8" r="2.5"/>
<circle cx="433.7" cy="303.8" r="2.5"/>
<circle cx="441.3" cy="303.8" r="2.5"/>
<circle cx="448.9" cy="303.8" r="2.5"/>
<circle cx="456.6" cy="303.8" r="2.5"/>
<circle cx="464.2" cy="303.8" r="2.5"/>
<circle cx="471.8" cy="303.8" r="2.5"/>
<circle cx="479.4" cy="303.8" r="2.5"/>
<circle cx="487.0" cy="303.8" r="2.5"/>
<circle cx="494.7" cy="303.8" r="2.5"/>
<circle cx="502.3" cy="303.8" r="2.5"/>
<circle cx="509.9" cy="303.8" r="2.5"/>
<circle cx="517.5" cy="303.8" r="2.5"/>
<circle cx="525.2" cy="303.8" r="2.5"/>
<circle cx="532.8" cy="303.8" r="2.5"/>
<circle cx="540.4" cy="303.8" r="2.5"/>
<circle cx="548.0" cy="303.8" r="2.5"/>
<circle cx="555.6" cy="303.8" r="2.5"/>
<circle cx="563.3" cy="303.8" r="2.5"/>
<circle cx="578.5" cy="303.8" r="2.5"/>
<circle cx="14.4" cy="311.4" r="2.5"/>
<circle cx="22.1" cy="311.4" r="2.5"/>
<circle cx="29.7" cy="311.4" r="2.5"/>
<circle cx="37.3" cy="311.4" r="2.5"/>
<circle cx="44.9" cy="311.4" r="2.5"/>
<circle cx="52.6" cy="311.4" r="2.5"/>
<circle cx="60.2" cy="311.4" r="2.5"/>
<circle cx="67.8" cy="311.4" r="2.5"/>
<circle cx="75.4" cy="311.4" r="2.5"/>
<circle cx="83.0" cy="311.4" r="2.5"/>
<circle cx="90.7" cy="311.4" r="2.5"/>
<circle cx="98.3" cy="311.4" r="2.5"/>
<circle cx="105.9" cy="311.4" r="2.5"/>
<circle cx="113.5" cy="311.4" r="2.5"/>
<circle cx="121.2" cy="311.4" r="2.5"/>
<circle cx="273.6" cy="311.4" r="2.5"/>
<circle cx="281.2" cy="311.4" r="2.5"/>
<circle cx="311.7" cy="311.4" r="2.5"/>
<circle cx="319.3" cy="311.4" r="2.5"/>
<circle cx="327.0" cy="311.4" r="2.5"/>
<circle cx="334.6" cy="311.4" r="2.5"/>
<circle cx="365.1" cy="311.4" r="2.5"/>
<circle cx="372.7" cy="311.4" r="2.5"/>
<circle cx="380.3" cy="311.4" r="2.5"/>
<circle cx="388.0" cy="311.4" r="2.5"/>
<circle cx="395.6" cy="311.4" r="2.5"/>
<circle cx="403.2" cy="311.4" r="2.5"/>
<circle cx="410.8" cy="311.4" r="2.5"/>
<circle cx="418.4" cy="311.4" r="2.5"/>
<circle cx="426.1" cy="311.4" r="2.5"/>
<circle cx="433.7" cy="311.4" r="2.5"/>
<circle cx="441.3" cy="311.4" r="2.5"/>
<circle cx="448.9" cy="311.4" r="2.5"/>
<circle cx="456.6" cy="311.4" r="2.5"/>
<circle cx="464.2" cy="311.4" r="2.5"/>
<circle cx="471.8" cy="311.4" r="2.5"/>
<circle cx="479.4" cy="311.4" r="2.5"/>
<circle cx="487.0" cy="311.4" r="2.5"/>
<circle cx="494.7" cy="311.4" r="2.5"/>
<circle cx="502.3" cy="311.4" r="2.5"/>
<circle cx="509.9" cy="311.4" r="2.5"/>
<circle cx="517.5" cy="311.4" r="2.5"/>
<circle cx="525.2" cy="311.4" r="2.5"/>
<circle cx="532.8" cy="311.4" r="2.5"/>
<circle cx="540.4" cy="311.4" r="2.5"/>
<circle cx="548.0" cy="311.4" r="2.5"/>
<circle cx="555.6" cy="311.4" r="2.5"/>
<circle cx="578.5" cy="311.4" r="2.5"/>
<circle cx="14.4" cy="319.0" r="2.5"/>
<circle cx="22.1" cy="319.0" r="2.5"/>
<circle cx="29.7" cy="319.0" r="2.5"/>
<circle cx="37.3" cy="319.0" r="2.5"/>
<circle cx="44.9" cy="319.0" r="2.5"/>
<circle cx="52.6" cy="319.0" r="2.5"/>
<circle cx="60.2" cy="319.0" r="2.5"/>
<circle cx="67.8" cy="319.0" r="2.5"/>
<circle cx="75.4" cy="319.0" r="2.5"/>
<circle cx="83.0" cy="319.0" r="2.5"/>
<circle cx="90.7" cy="319.0" r="2.5"/>
<circle cx="98.3" cy="319.0" r="2.5"/>
<circle cx="105.9" cy="319.0" r="2.5"/>
<circle cx="113.5" cy="319.0" r="2.5"/>
<circle cx="121.2" cy="319.0" r="2.5"/>
<circle cx="258.4" cy="319.0" r="2.5"/>
<circle cx="266.0" cy="319.0" r="2.5"/>
<circle cx="273.6" cy="319.0" r="2.5"/>
<circle cx="319.3" cy="319.0" r="2.5"/>
<circle cx="327.0" cy="319.0" r="2.5"/>
<circle cx="334.6" cy="319.0" r="2.5"/>
<circle cx="342.2" cy="319.0" r="2.5"/>
<circle cx="349.8" cy="319.0" r="2.5"/>
<circle cx="365.1" cy="319.0" r="2.5"/>
<circle cx="372.7" cy="319.0" r="2.5"/>
<circle cx="380.3" cy="319.0" r="2.5"/>
<circle cx="388.0" cy="319.0" r="2.5"/>
<circle cx="395.6" cy="319.0" r="2.5"/>
<circle cx="403.2" cy="319.0" r="2.5"/>
<circle cx="410.8" cy="319.0" r="2.5"/>
<circle cx="418.4" cy="319.0" r="2.5"/>
<circle cx="426.1" cy="319.0" r="2.5"/>
<circle cx="433.7" cy="319.0" r="2.5"/>
<circle cx="441.3" cy="319.0" r="2.5"/>
<circle cx="448.9" cy="319.0" r="2.5"/>
<circle cx="456.6" cy="319.0" r="2.5"/>
<circle cx="464.2" cy="319.0" r="2.5"/>
<circle cx="471.8" cy="319.0" r="2.5"/>
<circle cx="479.4" cy="319.0" r="2.5"/>
<circle cx="487.0" cy="319.0" r="2.5"/>
<circle cx="494.7" cy="319.0" r="2.5"/>
<circle cx="502.3" cy="319.0" r="2.5"/>
<circle cx="509.9" cy="319.0" r="2.5"/>
<circle cx="517.5" cy="319.0" r="2.5"/>
<circle cx="525.2" cy="319.0" r="2.5"/>
<circle cx="532.8" cy="319.0" r="2.5"/>
<circle cx="540.4" cy="319.0" r="2.5"/>
<circle cx="548.0" cy="319.0" r="2.5"/>
<circle cx="22.1" cy="326.6" r="2.5"/>
<circle cx="29.7" cy="326.6" r="2.5"/>
<circle cx="37.3" cy="326.6" r="2.5"/>
<circle cx="44.9" cy="326.6" r="2.5"/>
<circle cx="52.6" cy="326.6" r="2.5"/>
<circle cx="60.2" cy="326.6" r="2.5"/>
<circle cx="67.8" cy="326.6" r="2.5"/>
<circle cx="75.4" cy="326.6" r="2.5"/>
<circle cx="83.0" cy="326.6" r="2.5"/>
<circle cx="90.7" cy="326.6" r="2.5"/>
<circle cx="98.3" cy="326.6" r="2.5"/>
<circle cx="105.9" cy="326.6" r="2.5"/>
<circle cx="113.5" cy="326.6" r="2.5"/>
<circle cx="258.4" cy="326.6" r="2.5"/>
<circle cx="266.0" cy="326.6" r="2.5"/>
<circle cx="273.6" cy="326.6" r="2.5"/>
<circle cx="311.7" cy="326.6" r="2.5"/>
<circle cx="327.0" cy="326.6" r="2.5"/>
<circle cx="334.6" cy="326.6" r="2.5"/>
<circle cx="342.2" cy="326.6" r="2.5"/>
<circle cx="349.8" cy="326.6" r="2.5"/>
<circle cx="357.5" cy="326.6" r="2.5"/>
<circle cx="365.1" cy="326.6" r="2.5"/>
<circle cx="372.7" cy="326.6" r="2.5"/>
<circle cx="380.3" cy="326.6" r="2.5"/>
<circle cx="388.0" cy="326.6" r="2.5"/>
<circle cx="395.6" cy="326.6" r="2.5"/>
<circle cx="403.2" cy="326.6" r="2.5"/>
<circle cx="410.8" cy="326.6" r="2.5"/>
<circle cx="418.4" cy="326.6" r="2.5"/>
<circle cx="426.1" cy="326.6" r="2.5"/>
<circle cx="433.7" cy="326.6" r="2.5"/>
<circle cx="441.3" cy="326.6" r="2.5"/>
<circle cx="448.9" cy="326.6" r="2.5"/>
<circle cx="456.6" cy="326.6" r="2.5"/>
<circle cx="464.2" cy="326.6" r="2.5"/>
<circle cx="471.8" cy="326.6" r="2.5"/>
<circle cx="479.4" cy="326.6" r="2.5"/>
<circle cx="487.0" cy="326.6" r="2.5"/>
<circle cx="494.7" cy="326.6" r="2.5"/>
<circle cx="502.3" cy="326.6" r="2.5"/>
<circle cx="509.9" cy="326.6" r="2.5"/>
<circle cx="517.5" cy="326.6" r="2.5"/>
<circle cx="548.0" cy="326.6" r="2.5"/>
<circle cx="570.9" cy="326.6" r="2.5"/>
<circle cx="22.1" cy="334.3" r="2.5"/>
<circle cx="29.7" cy="334.3" r="2.5"/>
<circle cx="37.3" cy="334.3" r="2.5"/>
<circle cx="44.9" cy="334.3" r="2.5"/>
<circle cx="52.6" cy="334.3" r="2.5"/>
<circle cx="60.2" cy="334.3" r="2.5"/>
<circle cx="67.8" cy="334.3" r="2.5"/>
<circle cx="75.4" cy="334.3" r="2.5"/>
<circle cx="83.0" cy="334.3" r="2.5"/>
<circle cx="90.7" cy="334.3" r="2.5"/>
<circle cx="98.3" cy="334.3" r="2.5"/>
<circle cx="105.9" cy="334.3" r="2.5"/>
<circle cx="113.5" cy="334.3" r="2.5"/>
<circle cx="281.2" cy="334.3" r="2.5"/>
<circle cx="288.9" cy="334.3" r="2.5"/>
<circle cx="296.5" cy="334.3" r="2.5"/>
<circle cx="357.5" cy="334.3" r="2.5"/>
<circle cx="365.1" cy="334.3" r="2.5"/>
<circle cx="372.7" cy="334.3" r="2.5"/>
<circle cx="380.3" cy="334.3" r="2.5"/>
<circle cx="388.0" cy="334.3" r="2.5"/>
<circle cx="395.6" cy="334.3" r="2.5"/>
<circle cx="403.2" cy="334.3" r="2.5"/>
<circle cx="410.8" cy="334.3" r="2.5"/>
<circle cx="418.4" cy="334.3" r="2.5"/>
<circle cx="426.1" cy="334.3" r="2.5"/>
<circle cx="433.7" cy="334.3" r="2.5"/>
<circle cx="441.3" cy="334.3" r="2.5"/>
<circle cx="448.9" cy="334.3" r="2.5"/>
<circle cx="456.6" cy="334.3" r="2.5"/>
<circle cx="464.2" cy="334.3" r="2.5"/>
<circle cx="471.8" cy="334.3" r="2.5"/>
<circle cx="479.4" cy="334.3" r="2.5"/>
<circle cx="487.0" cy="334.3" r="2.5"/>
<circle cx="494.7" cy="334.3" r="2.5"/>
<circle cx="502.3" cy="334.3" r="2.5"/>
<circle cx="509.9" cy="334.3" r="2.5"/>
<circle cx="517.5" cy="334.3" r="2.5"/>
<circle cx="525.2" cy="334.3" r="2.5"/>
<circle cx="563.3" cy="334.3" r="2.5"/>
<circle cx="570.9" cy="334.3" r="2.5"/>
<circle cx="29.7" cy="341.9" r="2.5"/>
<circle cx="37.3" cy="341.9" r="2.5"/>
<circle cx="44.9" cy="341.9" r="2.5"/>
<circle cx="52.6" cy="341.9" r="2.5"/>
<circle cx="60.2" cy="341.9" r="2.5"/>
<circle cx="67.8" cy="341.9" r="2.5"/>
<circle cx="75.4" cy="341.9" r="2.5"/>
<circle cx="83.0" cy="341.9" r="2.5"/>
<circle cx="90.7" cy="341.9" r="2.5"/>
<circle cx="98.3" cy="341.9" r="2.5"/>
<circle cx="105.9" cy="341.9" r="2.5"/>
<circle cx="258.4" cy="341.9" r="2.5"/>
<circle cx="266.0" cy="341.9" r="2.5"/>
<circle cx="273.6" cy="341.9" r="2.5"/>
<circle cx="281.2" cy="341.9" r="2.5"/>
<circle cx="288.9" cy="341.9" r="2.5"/>
<circle cx="296.5" cy="341.9" r="2.5"/>
<circle cx="357.5" cy="341.9" r="2.5"/>
<circle cx="365.1" cy="341.9" r="2.5"/>
<circle cx="372.7" cy="341.9" r="2.5"/>
<circle cx="380.3" cy="341.9" r="2.5"/>
<circle cx="388.0" cy="341.9" r="2.5"/>
<circle cx="395.6" cy="341.9" r="2.5"/>
<circle cx="403.2" cy="341.9" r="2.5"/>
<circle cx="410.8" cy="341.9" r="2.5"/>
<circle cx="418.4" cy="341.9" r="2.5"/>
<circle cx="426.1" cy="341.9" r="2.5"/>
<circle cx="433.7" cy="341.9" r="2.5"/>
<circle cx="441.3" cy="341.9" r="2.5"/>
<circle cx="448.9" cy="341.9" r="2.5"/>
<circle cx="456.6" cy="341.9" r="2.5"/>
<circle cx="464.2" cy="341.9" r="2.5"/>
<circle cx="471.8" cy="341.9" r="2.5"/>
<circle cx="479.4" cy="341.9" r="2.5"/>
<circle cx="487.0" cy="341.9" r="2.5"/>
<circle cx="494.7" cy="341.9" r="2.5"/>
<circle cx="502.3" cy="341.9" r="2.5"/>
<circle cx="509.9" cy="341.9" r="2.5"/>
<circle cx="555.6" cy="341.9" r="2.5"/>
<circle cx="44.9" cy="349.5" r="2.5"/>
<circle cx="52.6" cy="349.5" r="2.5"/>
<circle cx="60.2" cy="349.5" r="2.5"/>
<circle cx="67.8" cy="349.5" r="2.5"/>
<circle cx="75.4" cy="349.5" r="2.5"/>
<circle cx="83.0" cy="349.5" r="2.5"/>
<circle cx="98.3" cy="349.5" r="2.5"/>
<circle cx="258.4" cy="349.5" r="2.5"/>
<circle cx="266.0" cy="349.5" r="2.5"/>
<circle cx="273.6" cy="349.5" r="2.5"/>
<circle cx="281.2" cy="349.5" r="2.5"/>
<circle cx="288.9" cy="349.5" r="2.5"/>
<circle cx="296.5" cy="349.5" r="2.5"/>
<circle cx="304.1" cy="349.5" r="2.5"/>
<circle cx="311.7" cy="349.5" r="2.5"/>
<circle cx="319.3" cy="349.5" r="2.5"/>
<circle cx="327.0" cy="349.5" r="2.5"/>
<circle cx="334.6" cy="349.5" r="2.5"/>
<circle cx="342.2" cy="349.5" r="2.5"/>
<circle cx="349.8" cy="349.5" r="2.5"/>
<circle cx="357.5" cy="349.5" r="2.5"/>
<circle cx="365.1" cy="349.5" r="2.5"/>
<circle cx="372.7" cy="349.5" r="2.5"/>
<circle cx="388.0" cy="349.5" r="2.5"/>
<circle cx="395.6" cy="349.5" r="2.5"/>
<circle cx="403.2" cy="349.5" r="2.5"/>
<circle cx="410.8" cy="349.5" r="2.5"/>
<circle cx="418.4" cy="349.5" r="2.5"/>
<circle cx="426.1" cy="349.5" r="2.5"/>
<circle cx="433.7" cy="349.5" r="2.5"/>
<circle cx="441.3" cy="349.5" r="2.5"/>
<circle cx="448.9" cy="349.5" r="2.5"/>
<circle cx="456.6" cy="349.5" r="2.5"/>
<circle cx="464.2" cy="349.5" r="2.5"/>
<circle cx="471.8" cy="349.5" r="2.5"/>
<circle cx="479.4" cy="349.5" r="2.5"/>
<circle cx="487.0" cy="349.5" r="2.5"/>
<circle cx="494.7" cy="349.5" r="2.5"/>
<circle cx="502.3" cy="349.5" r="2.5"/>
<circle cx="37.3" cy="357.1" r="2.5"/>
<circle cx="44.9" cy="357.1" r="2.5"/>
<circle cx="52.6" cy="357.1" r="2.5"/>
<circle cx="60.2" cy="357.1" r="2.5"/>
<circle cx="67.8" cy="357.1" r="2.5"/>
<circle cx="250.7" cy="357.1" r="2.5"/>
<circle cx="258.4" cy="357.1" r="2.5"/>
<circle cx="266.0" cy="357.1" r="2.5"/>
<circle cx="273.6" cy="357.1" r="2.5"/>
<circle cx="281.2" cy="357.1" r="2.5"/>
<circle cx="288.9" cy="357.1" r="2.5"/>
<circle cx="296.5" cy="357.1" r="2.5"/>
<circle cx="304.1" cy="357.1" r="2.5"/>
<circle cx="311.7" cy="357.1" r="2.5"/>
<circle cx="319.3" cy="357.1" r="2.5"/>
<circle cx="327.0" cy="357.1" r="2.5"/>
<circle cx="334.6" cy="357.1" r="2.5"/>
<circle cx="342.2" cy="357.1" r="2.5"/>
<circle cx="357.5" cy="357.1" r="2.5"/>
<circle cx="365.1" cy="357.1" r="2.5"/>
<circle cx="372.7" cy="357.1" r="2.5"/>
<circle cx="380.3" cy="357.1" r="2.5"/>
<circle cx="395.6" cy="357.1" r="2.5"/>
<circle cx="403.2" cy="357.1" r="2.5"/>
<circle cx="410.8" cy="357.1" r="2.5"/>
<circle cx="418.4" cy="357.1" r="2.5"/>
<circle cx="426.1" cy="357.1" r="2.5"/>
<circle cx="433.7" cy="357.1" r="2.5"/>
<circle cx="441.3" cy="357.1" r="2.5"/>
<circle cx="448.9" cy="357.1" r="2.5"/>
<circle cx="456.6" cy="357.1" r="2.5"/>
<circle cx="464.2" cy="357.1" r="2.5"/>
<circle cx="471.8" cy="357.1" r="2.5"/>
<circle cx="479.4" cy="357.1" r="2.5"/>
<circle cx="487.0" cy="357.1" r="2.5"/>
<circle cx="494.7" cy="357.1" r="2.5"/>
<circle cx="52.6" cy="364.7" r="2.5"/>
<circle cx="60.2" cy="364.7" r="2.5"/>
<circle cx="67.8" cy="364.7" r="2.5"/>
<circle cx="75.4" cy="364.7" r="2.5"/>
<circle cx="250.7" cy="364.7" r="2.5"/>
<circle cx="258.4" cy="364.7" r="2.5"/>
<circle cx="266.0" cy="364.7" r="2.5"/>
<circle cx="273.6" cy="364.7" r="2.5"/>
<circle cx="281.2" cy="364.7" r="2.5"/>
<circle cx="288.9" cy="364.7" r="2.5"/>
<circle cx="296.5" cy="364.7" r="2.5"/>
<circle cx="304.1" cy="364.7" r="2.5"/>
<circle cx="311.7" cy="364.7" r="2.5"/>
<circle cx="319.3" cy="364.7" r="2.5"/>
<circle cx="327.0" cy="364.7" r="2.5"/>
<circle cx="334.6" cy="364.7" r="2.5"/>
<circle cx="342.2" cy="364.7" r="2.5"/>
<circle cx="349.8" cy="364.7" r="2.5"/>
<circle cx="357.5" cy="364.7" r="2.5"/>
<circle cx="365.1" cy="364.7" r="2.5"/>
<circle cx="372.7" cy="364.7" r="2.5"/>
<circle cx="380.3" cy="364.7" r="2.5"/>
<circle cx="395.6" cy="364.7" r="2.5"/>
<circle cx="418.4" cy="364.7" r="2.5"/>
<circle cx="426.1" cy="364.7" r="2.5"/>
<circle cx="433.7" cy="364.7" r="2.5"/>
<circle cx="441.3" cy="364.7" r="2.5"/>
<circle cx="448.9" cy="364.7" r="2.5"/>
<circle cx="456.6" cy="364.7" r="2.5"/>
<circle cx="464.2" cy="364.7" r="2.5"/>
<circle cx="471.8" cy="364.7" r="2.5"/>
<circle cx="479.4" cy="364.7" r="2.5"/>
<circle cx="487.0" cy="364.7" r="2.5"/>
<circle cx="494.7" cy="364.7" r="2.5"/>
<circle cx="502.3" cy="364.7" r="2.5"/>
<circle cx="60.2" cy="372.3" r="2.5"/>
<circle cx="67.8" cy="372.3" r="2.5"/>
<circle cx="75.4" cy="372.3" r="2.5"/>
<circle cx="90.7" cy="372.3" r="2.5"/>
<circle cx="113.5" cy="372.3" r="2.5"/>
<circle cx="121.2" cy="372.3" r="2.5"/>
<circle cx="243.1" cy="372.3" r="2.5"/>
<circle cx="250.7" cy="372.3" r="2.5"/>
<circle cx="258.4" cy="372.3" r="2.5"/>
<circle cx="266.0" cy="372.3" r="2.5"/>
<circle cx="273.6" cy="372.3" r="2.5"/>
<circle cx="281.2" cy="372.3" r="2.5"/>
<circle cx="288.9" cy="372.3" r="2.5"/>
<circle cx="296.5" cy="372.3" r="2.5"/>
<circle cx="304.1" cy="372.3" r="2.5"/>
<circle cx="311.7" cy="372.3" r="2.5"/>
<circle cx="319.3" cy="372.3" r="2.5"/>
<circle cx="327.0" cy="372.3" r="2.5"/>
<circle cx="334.6" cy="372.3" r="2.5"/>
<circle cx="342.2" cy="372.3" r="2.5"/>
<circle cx="349.8" cy="372.3" r="2.5"/>
<circle cx="365.1" cy="372.3" r="2.5"/>
<circle cx="372.7" cy="372.3" r="2.5"/>
<circle cx="380.3" cy="372.3" r="2.5"/>
<circle cx="388.0" cy="372.3" r="2.5"/>
<circle cx="395.6" cy="372.3" r="2.5"/>
<circle cx="418.4" cy="372.3" r="2.5"/>
<circle cx="426.1" cy="372.3" r="2.5"/>
<circle cx="433.7" cy="372.3" r="2.5"/>
<circle cx="441.3" cy="372.3" r="2.5"/>
<circle cx="448.9" cy="372.3" r="2.5"/>
<circle cx="456.6" cy="372.3" r="2.5"/>
<circle cx="471.8" cy="372.3" r="2.5"/>
<circle cx="479.4" cy="372.3" r="2.5"/>
<circle cx="487.0" cy="372.3" r="2.5"/>
<circle cx="494.7" cy="372.3" r="2.5"/>
<circle cx="502.3" cy="372.3" r="2.5"/>
<circle cx="67.8" cy="379.9" r="2.5"/>
<circle cx="75.4" cy="379.9" r="2.5"/>
<circle cx="121.2" cy="379.9" r="2.5"/>
<circle cx="136.4" cy="379.9" r="2.5"/>
<circle cx="243.1" cy="379.9" r="2.5"/>
<circle cx="250.7" cy="379.9" r="2.5"/>
<circle cx="258.4" cy="379.9" r="2.5"/>
<circle cx="266.0" cy="379.9" r="2.5"/>
<circle cx="273.6" cy="379.9" r="2.5"/>
<circle cx="281.2" cy="379.9" r="2.5"/>
<circle cx="288.9" cy="379.9" r="2.5"/>
<circle cx="296.5" cy="379.9" r="2.5"/>
<circle cx="304.1" cy="379.9" r="2.5"/>
<circle cx="311.7" cy="379.9" r="2.5"/>
<circle cx="319.3" cy="379.9" r="2.5"/>
<circle cx="327.0" cy="379.9" r="2.5"/>
<circle cx="334.6" cy="379.9" r="2.5"/>
<circle cx="342.2" cy="379.9" r="2.5"/>
<circle cx="349.8" cy="379.9" r="2.5"/>
<circle cx="365.1" cy="379.9" r="2.5"/>
<circle cx="372.7" cy="379.9" r="2.5"/>
<circle cx="380.3" cy="379.9" r="2.5"/>
<circle cx="388.0" cy="379.9" r="2.5"/>
<circle cx="426.1" cy="379.9" r="2.5"/>
<circle cx="433.7" cy="379.9" r="2.5"/>
<circle cx="441.3" cy="379.9" r="2.5"/>
<circle cx="448.9" cy="379.9" r="2.5"/>
<circle cx="479.4" cy="379.9" r="2.5"/>
<circle cx="487.0" cy="379.9" r="2.5"/>
<circle cx="494.7" cy="379.9" r="2.5"/>
<circle cx="532.8" cy="379.9" r="2.5"/>
<circle cx="75.4" cy="387.6" r="2.5"/>
<circle cx="83.0" cy="387.6" r="2.5"/>
<circle cx="90.7" cy="387.6" r="2.5"/>
<circle cx="98.3" cy="387.6" r="2.5"/>
<circle cx="243.1" cy="387.6" r="2.5"/>
<circle cx="250.7" cy="387.6" r="2.5"/>
<circle cx="258.4" cy="387.6" r="2.5"/>
<circle cx="266.0" cy="387.6" r="2.5"/>
<circle cx="273.6" cy="387.6" r="2.5"/>
<circle cx="281.2" cy="387.6" r="2.5"/>
<circle cx="288.9" cy="387.6" r="2.5"/>
<circle cx="296.5" cy="387.6" r="2.5"/>
<circle cx="304.1" cy="387.6" r="2.5"/>
<circle cx="311.7" cy="387.6" r="2.5"/>
<circle cx="319.3" cy="387.6" r="2.5"/>
<circle cx="327.0" cy="387.6" r="2.5"/>
<circle cx="334.6" cy="387.6" r="2.5"/>
<circle cx="342.2" cy="387.6" r="2.5"/>
<circle cx="357.5" cy="387.6" r="2.5"/>
<circle cx="372.7" cy="387.6" r="2.5"/>
<circle cx="380.3" cy="387.6" r="2.5"/>
<circle cx="433.7" cy="387.6" r="2.5"/>
<circle cx="441.3" cy="387.6" r="2.5"/>
<circle cx="487.0" cy="387.6" r="2.5"/>
<circle cx="494.7" cy="387.6" r="2.5"/>
<circle cx="502.3" cy="387.6" r="2.5"/>
<circle cx="532.8" cy="387.6" r="2.5"/>
<circle cx="98.3" cy="395.2" r="2.5"/>
<circle cx="243.1" cy="395.2" r="2.5"/>
<circle cx="250.7" cy="395.2" r="2.5"/>
<circle cx="258.4" cy="395.2" r="2.5"/>
<circle cx="266.0" cy="395.2" r="2.5"/>
<circle cx="273.6" cy="395.2" r="2.5"/>
<circle cx="281.2" cy="395.2" r="2.5"/>
<circle cx="288.9" cy="395.2" r="2.5"/>
<circle cx="296.5" cy="395.2" r="2.5"/>
<circle cx="304.1" cy="395.2" r="2.5"/>
<circle cx="311.7" cy="395.2" r="2.5"/>
<circle cx="319.3" cy="395.2" r="2.5"/>
<circle cx="327.0" cy="395.2" r="2.5"/>
<circle cx="334.6" cy="395.2" r="2.5"/>
<circle cx="342.2" cy="395.2" r="2.5"/>
<circle cx="349.8" cy="395.2" r="2.5"/>
<circle cx="357.5" cy="395.2" r="2.5"/>
<circle cx="365.1" cy="395.2" r="2.5"/>
<circle cx="471.8" cy="395.2" r="2.5"/>
<circle cx="479.4" cy="395.2" r="2.5"/>
<circle cx="487.0" cy="395.2" r="2.5"/>
<circle cx="494.7" cy="395.2" r="2.5"/>
<circle cx="502.3" cy="395.2" r="2.5"/>
<circle cx="105.9" cy="402.8" r="2.5"/>
<circle cx="121.2" cy="402.8" r="2.5"/>
<circle cx="128.8" cy="402.8" r="2.5"/>
<circle cx="136.4" cy="402.8" r="2.5"/>
<circle cx="144.0" cy="402.8" r="2.5"/>
<circle cx="250.7" cy="402.8" r="2.5"/>
<circle cx="258.4" cy="402.8" r="2.5"/>
<circle cx="266.0" cy="402.8" r="2.5"/>
<circle cx="273.6" cy="402.8" r="2.5"/>
<circle cx="281.2" cy="402.8" r="2.5"/>
<circle cx="288.9" cy="402.8" r="2.5"/>
<circle cx="296.5" cy="402.8" r="2.5"/>
<circle cx="304.1" cy="402.8" r="2.5"/>
<circle cx="311.7" cy="402.8" r="2.5"/>
<circle cx="319.3" cy="402.8" r="2.5"/>
<circle cx="327.0" cy="402.8" r="2.5"/>
<circle cx="334.6" cy="402.8" r="2.5"/>
<circle cx="342.2" cy="402.8" r="2.5"/>
<circle cx="349.8" cy="402.8" r="2.5"/>
<circle cx="357.5" cy="402.8" r="2.5"/>
<circle cx="365.1" cy="402.8" r="2.5"/>
<circle cx="372.7" cy="402.8" r="2.5"/>
<circle cx="380.3" cy="402.8" r="2.5"/>
<circle cx="441.3" cy="402.8" r="2.5"/>
<circle cx="471.8" cy="402.8" r="2.5"/>
<circle cx="479.4" cy="402.8" r="2.5"/>
<circle cx="487.0" cy="402.8" r="2.5"/>
<circle cx="525.2" cy="402.8" r="2.5"/>
<circle cx="113.5" cy="410.4" r="2.5"/>
<circle cx="121.2" cy="410.4" r="2.5"/>
<circle cx="128.8" cy="410.4" r="2.5"/>
<circle cx="136.4" cy="410.4" r="2.5"/>
<circle cx="144.0" cy="410.4" r="2.5"/>
<circle cx="151.7" cy="410.4" r="2.5"/>
<circle cx="258.4" cy="410.4" r="2.5"/>
<circle cx="266.0" cy="410.4" r="2.5"/>
<circle cx="273.6" cy="410.4" r="2.5"/>
<circle cx="281.2" cy="410.4" r="2.5"/>
<circle cx="288.9" cy="410.4" r="2.5"/>
<circle cx="296.5" cy="410.4" r="2.5"/>
<circle cx="304.1" cy="410.4" r="2.5"/>
<circle cx="311.7" cy="410.4" r="2.5"/>
<circle cx="319.3" cy="410.4" r="2.5"/>
<circle cx="327.0" cy="410.4" r="2.5"/>
<circle cx="334.6" cy="410.4" r="2.5"/>
<circle cx="342.2" cy="410.4" r="2.5"/>
<circle cx="349.8" cy="410.4" r="2.5"/>
<circle cx="357.5" cy="410.4" r="2.5"/>
<circle cx="365.1" cy="410.4" r="2.5"/>
<circle cx="372.7" cy="410.4" r="2.5"/>
<circle cx="487.0" cy="410.4" r="2.5"/>
<circle cx="540.4" cy="410.4" r="2.5"/>
<circle cx="113.5" cy="418.0" r="2.5"/>
<circle cx="121.2" cy="418.0" r="2.5"/>
<circle cx="128.8" cy="418.0" r="2.5"/>
<circle cx="136.4" cy="418.0" r="2.5"/>
<circle cx="144.0" cy="418.0" r="2.5"/>
<circle cx="151.7" cy="418.0" r="2.5"/>
<circle cx="159.3" cy="418.0" r="2.5"/>
<circle cx="166.9" cy="418.0" r="2.5"/>
<circle cx="296.5" cy="418.0" r="2.5"/>
<circle cx="304.1" cy="418.0" r="2.5"/>
<circle cx="311.7" cy="418.0" r="2.5"/>
<circle cx="319.3" cy="418.0" r="2.5"/>
<circle cx="327.0" cy="418.0" r="2.5"/>
<circle cx="334.6" cy="418.0" r="2.5"/>
<circle cx="342.2" cy="418.0" r="2.5"/>
<circle cx="349.8" cy="418.0" r="2.5"/>
<circle cx="357.5" cy="418.0" r="2.5"/>
<circle cx="365.1" cy="418.0" r="2.5"/>
<circle cx="372.7" cy="418.0" r="2.5"/>
<circle cx="479.4" cy="418.0" r="2.5"/>
<circle cx="517.5" cy="418.0" r="2.5"/>
<circle cx="113.5" cy="425.6" r="2.5"/>
<circle cx="121.2" cy="425.6" r="2.5"/>
<circle cx="128.8" cy="425.6" r="2.5"/>
<circle cx="136.4" cy="425.6" r="2.5"/>
<circle cx="144.0" cy="425.6" r="2.5"/>
<circle cx="151.7" cy="425.6" r="2.5"/>
<circle cx="159.3" cy="425.6" r="2.5"/>
<circle cx="288.9" cy="425.6" r="2.5"/>
<circle cx="296.5" cy="425.6" r="2.5"/>
<circle cx="304.1" cy="425.6" r="2.5"/>
<circle cx="311.7" cy="425.6" r="2.5"/>
<circle cx="319.3" cy="425.6" r="2.5"/>
<circle cx="327.0" cy="425.6" r="2.5"/>
<circle cx="334.6" cy="425.6" r="2.5"/>
<circle cx="342.2" cy="425.6" r="2.5"/>
<circle cx="349.8" cy="425.6" r="2.5"/>
<circle cx="357.5" cy="425.6" r="2.5"/>
<circle cx="365.1" cy="425.6" r="2.5"/>
<circle cx="479.4" cy="425.6" r="2.5"/>
<circle cx="487.0" cy="425.6" r="2.5"/>
<circle cx="494.7" cy="425.6" r="2.5"/>
<circle cx="509.9" cy="425.6" r="2.5"/>
<circle cx="517.5" cy="425.6" r="2.5"/>
<circle cx="113.5" cy="433.3" r="2.5"/>
<circle cx="121.2" cy="433.3" r="2.5"/>
<circle cx="128.8" cy="433.3" r="2.5"/>
<circle cx="136.4" cy="433.3" r="2.5"/>
<circle cx="144.0" cy="433.3" r="2.5"/>
<circle cx="151.7" cy="433.3" r="2.5"/>
<circle cx="159.3" cy="433.3" r="2.5"/>
<circle cx="166.9" cy="433.3" r="2.5"/>
<circle cx="174.5" cy="433.3" r="2.5"/>
<circle cx="182.1" cy="433.3" r="2.5"/>
<circle cx="304.1" cy="433.3" r="2.5"/>
<circle cx="311.7" cy="433.3" r="2.5"/>
<circle cx="319.3" cy="433.3" r="2.5"/>
<circle cx="327.0" cy="433.3" r="2.5"/>
<circle cx="334.6" cy="433.3" r="2.5"/>
<circle cx="342.2" cy="433.3" r="2.5"/>
<circle cx="349.8" cy="433.3" r="2.5"/>
<circle cx="357.5" cy="433.3" r="2.5"/>
<circle cx="479.4" cy="433.3" r="2.5"/>
<circle cx="487.0" cy="433.3" r="2.5"/>
<circle cx="502.3" cy="433.3" r="2.5"/>
<circle cx="509.9" cy="433.3" r="2.5"/>
<circle cx="517.5" cy="433.3" r="2.5"/>
<circle cx="532.8" cy="433.3" r="2.5"/>
<circle cx="548.0" cy="433.3" r="2.5"/>
<circle cx="570.9" cy="433.3" r="2.5"/>
<circle cx="647.1" cy="433.3" r="2.5"/>
<circle cx="113.5" cy="440.9" r="2.5"/>
<circle cx="121.2" cy="440.9" r="2.5"/>
<circle cx="128.8" cy="440.9" r="2.5"/>
<circle cx="136.4" cy="440.9" r="2.5"/>
<circle cx="144.0" cy="440.9" r="2.5"/>
<circle cx="151.7" cy="440.9" r="2.5"/>
<circle cx="159.3" cy="440.9" r="2.5"/>
<circle cx="166.9" cy="440.9" r="2.5"/>
<circle cx="174.5" cy="440.9" r="2.5"/>
<circle cx="182.1" cy="440.9" r="2.5"/>
<circle cx="189.8" cy="440.9" r="2.5"/>
<circle cx="197.4" cy="440.9" r="2.5"/>
<circle cx="304.1" cy="440.9" r="2.5"/>
<circle cx="311.7" cy="440.9" r="2.5"/>
<circle cx="319.3" cy="440.9" r="2.5"/>
<circle cx="327.0" cy="440.9" r="2.5"/>
<circle cx="334.6" cy="440.9" r="2.5"/>
<circle cx="342.2" cy="440.9" r="2.5"/>
<circle cx="349.8" cy="440.9" r="2.5"/>
<circle cx="357.5" cy="440.9" r="2.5"/>
<circle cx="570.9" cy="440.9" r="2.5"/>
<circle cx="578.5" cy="440.9" r="2.5"/>
<circle cx="586.1" cy="440.9" r="2.5"/>
<circle cx="593.8" cy="440.9" r="2.5"/>
<circle cx="113.5" cy="448.5" r="2.5"/>
<circle cx="121.2" cy="448.5" r="2.5"/>
<circle cx="128.8" cy="448.5" r="2.5"/>
<circle cx="136.4" cy="448.5" r="2.5"/>
<circle cx="144.0" cy="448.5" r="2.5"/>
<circle cx="151.7" cy="448.5" r="2.5"/>
<circle cx="159.3" cy="448.5" r="2.5"/>
<circle cx="166.9" cy="448.5" r="2.5"/>
<circle cx="174.5" cy="448.5" r="2.5"/>
<circle cx="182.1" cy="448.5" r="2.5"/>
<circle cx="189.8" cy="448.5" r="2.5"/>
<circle cx="197.4" cy="448.5" r="2.5"/>
<circle cx="311.7" cy="448.5" r="2.5"/>
<circle cx="319.3" cy="448.5" r="2.5"/>
<circle cx="327.0" cy="448.5" r="2.5"/>
<circle cx="334.6" cy="448.5" r="2.5"/>
<circle cx="342.2" cy="448.5" r="2.5"/>
<circle cx="349.8" cy="448.5" r="2.5"/>
<circle cx="357.5" cy="448.5" r="2.5"/>
<circle cx="525.2" cy="448.5" r="2.5"/>
<circle cx="532.8" cy="448.5" r="2.5"/>
<circle cx="540.4" cy="448.5" r="2.5"/>
<circle cx="113.5" cy="456.1" r="2.5"/>
<circle cx="121.2" cy="456.1" r="2.5"/>
<circle cx="128.8" cy="456.1" r="2.5"/>
<circle cx="136.4" cy="456.1" r="2.5"/>
<circle cx="144.0" cy="456.1" r="2.5"/>
<circle cx="151.7" cy="456.1" r="2.5"/>
<circle cx="159.3" cy="456.1" r="2.5"/>
<circle cx="166.9" cy="456.1" r="2.5"/>
<circle cx="174.5" cy="456.1" r="2.5"/>
<circle cx="182.1" cy="456.1" r="2.5"/>
<circle cx="189.8" cy="456.1" r="2.5"/>
<circle cx="311.7" cy="456.1" r="2.5"/>
<circle cx="319.3" cy="456.1" r="2.5"/>
<circle cx="327.0" cy="456.1" r="2.5"/>
<circle cx="334.6" cy="456.1" r="2.5"/>
<circle cx="342.2" cy="456.1" r="2.5"/>
<circle cx="349.8" cy="456.1" r="2.5"/>
<circle cx="357.5" cy="456.1" r="2.5"/>
<circle cx="563.3" cy="456.1" r="2.5"/>
<circle cx="578.5" cy="456.1" r="2.5"/>
<circle cx="121.2" cy="463.7" r="2.5"/>
<circle cx="128.8" cy="463.7" r="2.5"/>
<circle cx="136.4" cy="463.7" r="2.5"/>
<circle cx="144.0" cy="463.7" r="2.5"/>
<circle cx="151.7" cy="463.7" r="2.5"/>
<circle cx="159.3" cy="463.7" r="2.5"/>
<circle cx="166.9" cy="463.7" r="2.5"/>
<circle cx="174.5" cy="463.7" r="2.5"/>
<circle cx="182.1" cy="463.7" r="2.5"/>
<circle cx="189.8" cy="463.7" r="2.5"/>
<circle cx="311.7" cy="463.7" r="2.5"/>
<circle cx="319.3" cy="463.7" r="2.5"/>
<circle cx="327.0" cy="463.7" r="2.5"/>
<circle cx="334.6" cy="463.7" r="2.5"/>
<circle cx="342.2" cy="463.7" r="2.5"/>
<circle cx="349.8" cy="463.7" r="2.5"/>
<circle cx="548.0" cy="463.7" r="2.5"/>
<circle cx="555.6" cy="463.7" r="2.5"/>
<circle cx="563.3" cy="463.7" r="2.5"/>
<circle cx="570.9" cy="463.7" r="2.5"/>
<circle cx="578.5" cy="463.7" r="2.5"/>
<circle cx="128.8" cy="471.3" r="2.5"/>
<circle cx="136.4" cy="471.3" r="2.5"/>
<circle cx="144.0" cy="471.3" r="2.5"/>
<circle cx="151.7" cy="471.3" r="2.5"/>
<circle cx="159.3" cy="471.3" r="2.5"/>
<circle cx="166.9" cy="471.3" r="2.5"/>
<circle cx="174.5" cy="471.3" r="2.5"/>
<circle cx="182.1" cy="471.3" r="2.5"/>
<circle cx="189.8" cy="471.3" r="2.5"/>
<circle cx="304.1" cy="471.3" r="2.5"/>
<circle cx="311.7" cy="471.3" r="2.5"/>
<circle cx="319.3" cy="471.3" r="2.5"/>
<circle cx="327.0" cy="471.3" r="2.5"/>
<circle cx="334.6" cy="471.3" r="2.5"/>
<circle cx="342.2" cy="471.3" r="2.5"/>
<circle cx="349.8" cy="471.3" r="2.5"/>
<circle cx="372.7" cy="471.3" r="2.5"/>
<circle cx="540.4" cy="471.3" r="2.5"/>
<circle cx="548.0" cy="471.3" r="2.5"/>
<circle cx="555.6" cy="471.3" r="2.5"/>
<circle cx="563.3" cy="471.3" r="2.5"/>
<circle cx="570.9" cy="471.3" r="2.5"/>
<circle cx="578.5" cy="471.3" r="2.5"/>
<circle cx="128.8" cy="479.0" r="2.5"/>
<circle cx="136.4" cy="479.0" r="2.5"/>
<circle cx="144.0" cy="479.0" r="2.5"/>
<circle cx="151.7" cy="479.0" r="2.5"/>
<circle cx="159.3" cy="479.0" r="2.5"/>
<circle cx="166.9" cy="479.0" r="2.5"/>
<circle cx="174.5" cy="479.0" r="2.5"/>
<circle cx="182.1" cy="479.0" r="2.5"/>
<circle cx="311.7" cy="479.0" r="2.5"/>
<circle cx="319.3" cy="479.0" r="2.5"/>
<circle cx="327.0" cy="479.0" r="2.5"/>
<circle cx="334.6" cy="479.0" r="2.5"/>
<circle cx="342.2" cy="479.0" r="2.5"/>
<circle cx="372.7" cy="479.0" r="2.5"/>
<circle cx="525.2" cy="479.0" r="2.5"/>
<circle cx="532.8" cy="479.0" r="2.5"/>
<circle cx="540.4" cy="479.0" r="2.5"/>
<circle cx="548.0" cy="479.0" r="2.5"/>
<circle cx="555.6" cy="479.0" r="2.5"/>
<circle cx="563.3" cy="479.0" r="2.5"/>
<circle cx="570.9" cy="479.0" r="2.5"/>
<circle cx="578.5" cy="479.0" r="2.5"/>
<circle cx="624.3" cy="479.0" r="2.5"/>
<circle cx="128.8" cy="486.6" r="2.5"/>
<circle cx="136.4" cy="486.6" r="2.5"/>
<circle cx="144.0" cy="486.6" r="2.5"/>
<circle cx="151.7" cy="486.6" r="2.5"/>
<circle cx="159.3" cy="486.6" r="2.5"/>
<circle cx="166.9" cy="486.6" r="2.5"/>
<circle cx="174.5" cy="486.6" r="2.5"/>
<circle cx="311.7" cy="486.6" r="2.5"/>
<circle cx="319.3" cy="486.6" r="2.5"/>
<circle cx="327.0" cy="486.6" r="2.5"/>
<circle cx="334.6" cy="486.6" r="2.5"/>
<circle cx="342.2" cy="486.6" r="2.5"/>
<circle cx="525.2" cy="486.6" r="2.5"/>
<circle cx="532.8" cy="486.6" r="2.5"/>
<circle cx="540.4" cy="486.6" r="2.5"/>
<circle cx="548.0" cy="486.6" r="2.5"/>
<circle cx="555.6" cy="486.6" r="2.5"/>
<circle cx="563.3" cy="486.6" r="2.5"/>
<circle cx="570.9" cy="486.6" r="2.5"/>
<circle cx="578.5" cy="486.6" r="2.5"/>
<circle cx="586.1" cy="486.6" r="2.5"/>
<circle cx="44.9" cy="494.2" r="2.5"/>
<circle cx="128.8" cy="494.2" r="2.5"/>
<circle cx="136.4" cy="494.2" r="2.5"/>
<circle cx="144.0" cy="494.2" r="2.5"/>
<circle cx="151.7" cy="494.2" r="2.5"/>
<circle cx="159.3" cy="494.2" r="2.5"/>
<circle cx="166.9" cy="494.2" r="2.5"/>
<circle cx="311.7" cy="494.2" r="2.5"/>
<circle cx="319.3" cy="494.2" r="2.5"/>
<circle cx="327.0" cy="494.2" r="2.5"/>
<circle cx="334.6" cy="494.2" r="2.5"/>
<circle cx="342.2" cy="494.2" r="2.5"/>
<circle cx="517.5" cy="494.2" r="2.5"/>
<circle cx="525.2" cy="494.2" r="2.5"/>
<circle cx="532.8" cy="494.2" r="2.5"/>
<circle cx="540.4" cy="494.2" r="2.5"/>
<circle cx="548.0" cy="494.2" r="2.5"/>
<circle cx="555.6" cy="494.2" r="2.5"/>
<circle cx="563.3" cy="494.2" r="2.5"/>
<circle cx="570.9" cy="494.2" r="2.5"/>
<circle cx="578.5" cy="494.2" r="2.5"/>
<circle cx="586.1" cy="494.2" r="2.5"/>
<circle cx="593.8" cy="494.2" r="2.5"/>
<circle cx="128.8" cy="501.8" r="2.5"/>
<circle cx="136.4" cy="501.8" r="2.5"/>
<circle cx="144.0" cy="501.8" r="2.5"/>
<circle cx="151.7" cy="501.8" r="2.5"/>
<circle cx="159.3" cy="501.8" r="2.5"/>
<circle cx="166.9" cy="501.8" r="2.5"/>
<circle cx="319.3" cy="501.8" r="2.5"/>
<circle cx="327.0" cy="501.8" r="2.5"/>
<circle cx="334.6" cy="501.8" r="2.5"/>
<circle cx="525.2" cy="501.8" r="2.5"/>
<circle cx="532.8" cy="501.8" r="2.5"/>
<circle cx="540.4" cy="501.8" r="2.5"/>
<circle cx="548.0" cy="501.8" r="2.5"/>
<circle cx="555.6" cy="501.8" r="2.5"/>
<circle cx="563.3" cy="501.8" r="2.5"/>
<circle cx="570.9" cy="501.8" r="2.5"/>
<circle cx="578.5" cy="501.8" r="2.5"/>
<circle cx="586.1" cy="501.8" r="2.5"/>
<circle cx="593.8" cy="501.8" r="2.5"/>
<circle cx="128.8" cy="509.4" r="2.5"/>
<circle cx="136.4" cy="509.4" r="2.5"/>
<circle cx="144.0" cy="509.4" r="2.5"/>
<circle cx="151.7" cy="509.4" r="2.5"/>
<circle cx="159.3" cy="509.4" r="2.5"/>
<circle cx="525.2" cy="509.4" r="2.5"/>
<circle cx="532.8" cy="509.4" r="2.5"/>
<circle cx="540.4" cy="509.4" r="2.5"/>
<circle cx="548.0" cy="509.4" r="2.5"/>
<circle cx="555.6" cy="509.4" r="2.5"/>
<circle cx="563.3" cy="509.4" r="2.5"/>
<circle cx="570.9" cy="509.4" r="2.5"/>
<circle cx="578.5" cy="509.4" r="2.5"/>
<circle cx="586.1" cy="509.4" r="2.5"/>
<circle cx="593.8" cy="509.4" r="2.5"/>
<circle cx="128.8" cy="517.0" r="2.5"/>
<circle cx="136.4" cy="517.0" r="2.5"/>
<circle cx="144.0" cy="517.0" r="2.5"/>
<circle cx="151.7" cy="517.0" r="2.5"/>
<circle cx="570.9" cy="517.0" r="2.5"/>
<circle cx="578.5" cy="517.0" r="2.5"/>
<circle cx="586.1" cy="517.0" r="2.5"/>
<circle cx="121.2" cy="524.7" r="2.5"/>
<circle cx="128.8" cy="524.7" r="2.5"/>
<circle cx="136.4" cy="524.7" r="2.5"/>
<circle cx="144.0" cy="524.7" r="2.5"/>
<circle cx="578.5" cy="524.7" r="2.5"/>
<circle cx="586.1" cy="524.7" r="2.5"/>
<circle cx="647.1" cy="524.7" r="2.5"/>
<circle cx="121.2" cy="532.3" r="2.5"/>
<circle cx="128.8" cy="532.3" r="2.5"/>
<circle cx="136.4" cy="532.3" r="2.5"/>
<circle cx="647.1" cy="532.3" r="2.5"/>
<circle cx="121.2" cy="539.9" r="2.5"/>
<circle cx="128.8" cy="539.9" r="2.5"/>
<circle cx="639.5" cy="539.9" r="2.5"/>
<circle cx="121.2" cy="547.5" r="2.5"/>
<circle cx="128.8" cy="547.5" r="2.5"/>
<circle cx="631.9" cy="547.5" r="2.5"/>
<circle cx="121.2" cy="555.1" r="2.5"/>
<circle cx="128.8" cy="555.1" r="2.5"/>
</g></svg>
<div class="t b" style="left:8.84px;top:54.70px;font-size:18.0px;letter-spacing:0.000px;color:#2f6b84;transform:scaleX(1.0071);transform-origin:0 0">US:</div>
<div class="t n" style="left:44.20px;top:54.70px;font-size:18.0px;letter-spacing:-0.028px;color:#000">Government</div>
<div class="t n" style="left:9.10px;top:78.70px;font-size:18.0px;letter-spacing:-0.067px;color:#000">incentives to</div>
<div class="t n" style="left:9.10px;top:102.70px;font-size:18.0px;letter-spacing:-0.003px;color:#000">manufacture autos in</div>
<div class="t n" style="left:8.85px;top:126.70px;font-size:18.0px;letter-spacing:0.178px;color:#000">North America and</div>
<div class="t n" style="left:9.55px;top:150.70px;font-size:18.0px;letter-spacing:-0.096px;color:#000">onshore chips</div>
<div class="t n" style="left:9.10px;top:174.70px;font-size:18.0px;letter-spacing:0.108px;color:#000">manufacturing.</div>
<div class="t b" style="left:246.63px;top:54.70px;font-size:18.0px;letter-spacing:0.000px;color:#4a9cc0;transform:scaleX(0.9768);transform-origin:0 0">EU:</div>
<div class="t n" style="left:281.65px;top:54.70px;font-size:18.0px;letter-spacing:-0.082px;color:#000">Initiatives to boost</div>
<div class="t n" style="left:246.80px;top:78.70px;font-size:18.0px;letter-spacing:0.058px;color:#000">self-sufficiency in chips</div>
<div class="t n" style="left:246.55px;top:102.70px;font-size:18.0px;letter-spacing:0.097px;color:#000">and minerals, with</div>
<div class="t n" style="left:245.89px;top:126.70px;font-size:18.0px;letter-spacing:0.000px;color:#000;transform:scaleX(0.9748);transform-origin:0 0">Eastern Europe</div>
<div class="t n" style="left:246.15px;top:150.70px;font-size:18.0px;letter-spacing:0.407px;color:#000">benefitting from</div>
<div class="t n" style="left:246.10px;top:174.70px;font-size:18.0px;letter-spacing:-0.014px;color:#000">nearshoring trends.</div>
<div class="t b" style="left:487.15px;top:54.70px;font-size:18.0px;letter-spacing:0.000px;color:#ee4f75;transform:scaleX(0.9821);transform-origin:0 0">Japan:</div>
<div class="t n" style="left:547.30px;top:54.70px;font-size:18.0px;letter-spacing:-0.028px;color:#000">Government</div>
<div class="t n" style="left:486.20px;top:78.70px;font-size:18.0px;letter-spacing:-0.045px;color:#000">incentives are focused</div>
<div class="t n" style="left:486.65px;top:102.70px;font-size:18.0px;letter-spacing:0.059px;color:#000">on reducing trade</div>
<div class="t n" style="left:486.20px;top:126.70px;font-size:18.0px;letter-spacing:-0.048px;color:#000">reliance in critical sectors</div>
<div class="t n" style="left:486.65px;top:150.70px;font-size:18.0px;letter-spacing:0.028px;color:#000">and facilitating reshoring</div>
<div class="t n" style="left:486.65px;top:174.70px;font-size:18.0px;letter-spacing:0.139px;color:#000">of chip production.</div>
<div class="t b" style="left:9.17px;top:452.70px;font-size:18.0px;letter-spacing:0.000px;color:#3f7320;transform:scaleX(1.0226);transform-origin:0 0">Mexico:</div>
<div class="t n" style="left:81.00px;top:452.70px;font-size:18.0px;letter-spacing:0.000px;color:#000;transform:scaleX(0.9638);transform-origin:0 0">Has a</div>
<div class="t n" style="left:9.10px;top:476.70px;font-size:18.0px;letter-spacing:-0.036px;color:#000">nearshoring edge due to</div>
<div class="t n" style="left:9.05px;top:500.70px;font-size:18.0px;letter-spacing:-0.086px;color:#000">high exposure to US</div>
<div class="t n" style="left:9.10px;top:524.70px;font-size:18.0px;letter-spacing:-0.074px;color:#000">market and key trade</div>
<div class="t n" style="left:9.58px;top:548.70px;font-size:18.0px;letter-spacing:0.000px;color:#000;transform:scaleX(0.9595);transform-origin:0 0">deals.</div>
<div class="t b" style="left:246.62px;top:452.70px;font-size:18.0px;letter-spacing:0.000px;color:#c5502a;transform:scaleX(0.9856);transform-origin:0 0">India:</div>
<div class="t n" style="left:298.10px;top:452.70px;font-size:18.0px;letter-spacing:-0.061px;color:#000">Government</div>
<div class="t n" style="left:246.80px;top:476.70px;font-size:18.0px;letter-spacing:0.014px;color:#000">schemes to boost local</div>
<div class="t n" style="left:246.10px;top:500.70px;font-size:18.0px;letter-spacing:0.153px;color:#000">manufacturing and</div>
<div class="t n" style="left:246.55px;top:524.70px;font-size:18.0px;letter-spacing:0.163px;color:#000">attract semiconductor</div>
<div class="t n" style="left:245.85px;top:548.70px;font-size:18.0px;letter-spacing:0.068px;color:#000">FDI, with investment</div>
<div class="t n" style="left:246.10px;top:572.70px;font-size:18.0px;letter-spacing:0.141px;color:#000">intentions in futuristic</div>
<div class="t n" style="left:246.80px;top:596.70px;font-size:18.0px;letter-spacing:0.052px;color:#000">sectors rising quickly.</div>
<div class="t b" style="left:486.51px;top:452.70px;font-size:18.0px;letter-spacing:0.000px;color:#c23b5a;transform:scaleX(0.9879);transform-origin:0 0">Indonesia:</div>
<div class="t n" style="left:579.00px;top:452.70px;font-size:18.0px;letter-spacing:0.088px;color:#000">Could</div>
<div class="t n" style="left:486.55px;top:476.70px;font-size:18.0px;letter-spacing:-0.100px;color:#000">become an EV and</div>
<div class="t n" style="left:486.55px;top:500.70px;font-size:18.0px;letter-spacing:0.159px;color:#000">battery production hub.</div>
<div class="t h" style="left:0.88px;top:3.50px;font-size:30.0px;letter-spacing:0.000px;color:#000;transform:scaleX(0.9055);transform-origin:0 0">How</div>
<div class="t h" style="left:63.47px;top:3.50px;font-size:30.0px;letter-spacing:0.000px;color:#000;transform:scaleX(0.8566);transform-origin:0 0">supply</div>
<div class="t h" style="left:145.91px;top:3.50px;font-size:30.0px;letter-spacing:0.000px;color:#000;transform:scaleX(0.8685);transform-origin:0 0">chains</div>
<div class="t h" style="left:228.45px;top:3.50px;font-size:30.0px;letter-spacing:0.000px;color:#000;transform:scaleX(0.8407);transform-origin:0 0">are</div>
<div class="t h" style="left:270.95px;top:3.50px;font-size:30.0px;letter-spacing:0.000px;color:#000;transform:scaleX(0.8846);transform-origin:0 0">shifting</div>
<div class="t s" style="left:1.08px;top:639.20px;font-size:15.0px;letter-spacing:0.000px;color:#000;transform:scaleX(0.8902);transform-origin:0 0">Source:</div>
<div class="t s" style="left:49.55px;top:639.20px;font-size:15.0px;letter-spacing:0.000px;color:#000;transform:scaleX(0.9333);transform-origin:0 0">QIMA,</div>
<div class="t s" style="left:92.95px;top:639.20px;font-size:15.0px;letter-spacing:0.000px;color:#000;transform:scaleX(0.9129);transform-origin:0 0">World</div>
<div class="t s" style="left:132.92px;top:639.20px;font-size:15.0px;letter-spacing:0.000px;color:#000;transform:scaleX(0.8981);transform-origin:0 0">Economic</div>
<div class="t s" style="left:196.62px;top:639.20px;font-size:15.0px;letter-spacing:0.000px;color:#000;transform:scaleX(0.8978);transform-origin:0 0">Forum,</div>
<div class="t s" style="left:242.57px;top:639.20px;font-size:15.0px;letter-spacing:0.000px;color:#000;transform:scaleX(0.8571);transform-origin:0 0">HSBC</div>
<svg width="693" height="660" viewBox="0 0 693 660">
<circle cx="79.6" cy="306.6" r="21.40" fill="#2f6b84"/>
<circle cx="294.5" cy="292.4" r="21.50" fill="#4499bd"/>
<circle cx="648.2" cy="277.4" r="21.45" fill="#ee4f75"/>
<circle cx="63.2" cy="380.3" r="21.50" fill="#3d6f1c"/>
<circle cx="435.2" cy="377.7" r="21.60" fill="#c44d25"/>
<circle cx="524.4" cy="358.5" r="21.50" fill="#bf3a56"/>
<g fill="none" stroke="#222" stroke-width="1.2" stroke-linecap="butt">
<path d="M124.1 214.8 C133 248 122 280 91 295.4"/>
<path d="M275.6 217.3 C269.8 238 273.5 262 290.4 282.4"/>
<path d="M517.5 216.7 C545 255 590 276 639.3 271"/>
<path d="M59.6 388.5 C44 402 36.5 420 36.5 441.5"/>
<path d="M290.4 441.9 C318 396 360 372 420.4 376.1"/>
<path d="M530.2 364.5 C545 388 545 415 535.5 441.5"/>
</g></svg>
</div></body></html>
